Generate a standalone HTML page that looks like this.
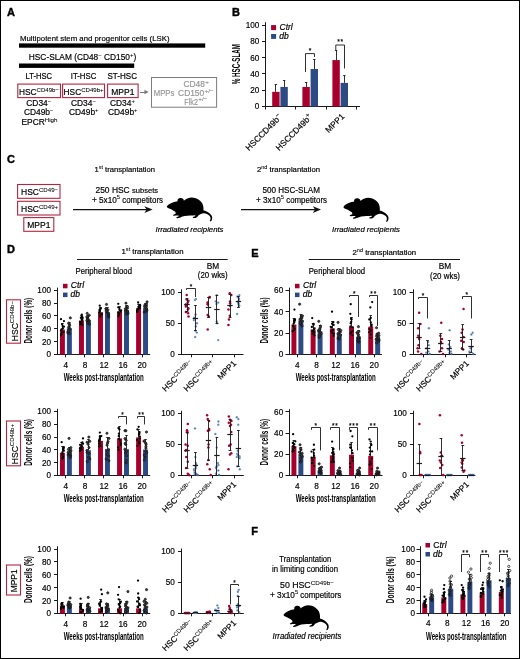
<!DOCTYPE html>
<html><head><meta charset="utf-8"><style>
html,body{margin:0;padding:0;background:#fff;}
body{width:520px;height:659px;overflow:hidden;}
svg{display:block;font-family:"Liberation Sans", sans-serif;will-change:transform;transform:translateZ(0);}
</style></head><body>
<svg width="520" height="659" viewBox="0 0 520 659">
<rect x="0" y="0" width="520" height="659" fill="#fff"/>
<rect x="0.5" y="0.5" width="519" height="658" fill="none" stroke="#000" stroke-width="1"/>
<text x="7" y="16" font-size="11" font-weight="bold" stroke="#000" stroke-width="0.4">A</text>
<text x="232" y="16.3" font-size="11" font-weight="bold" stroke="#000" stroke-width="0.4">B</text>
<text x="7" y="162.5" font-size="11" font-weight="bold" stroke="#000" stroke-width="0.4">C</text>
<text x="7" y="253" font-size="11" font-weight="bold" stroke="#000" stroke-width="0.4">D</text>
<text x="251.3" y="257" font-size="11" font-weight="bold" stroke="#000" stroke-width="0.4">E</text>
<text x="251.3" y="534.5" font-size="11" font-weight="bold" stroke="#000" stroke-width="0.4">F</text>
<text x="20" y="41" font-size="8.1" stroke="#000" stroke-width="0.18" textLength="149.5" lengthAdjust="spacingAndGlyphs">Multipotent stem and progenitor cells (LSK)</text>
<rect x="19" y="43.4" width="186.2" height="4.3" fill="#000"/>
<text x="28.8" y="60" font-size="8.3" stroke="#000" stroke-width="0.18" textLength="107.5" lengthAdjust="spacingAndGlyphs">HSC-SLAM (CD48<tspan font-size="6" dy="-3.2" stroke-width="0.06">−</tspan><tspan dy="3.2"> CD150</tspan><tspan font-size="6" dy="-3.2" stroke-width="0.06">+</tspan><tspan dy="3.2">)</tspan></text>
<rect x="19" y="63.5" width="115.2" height="4.4" fill="#000"/>
<text x="25.5" y="79.3" font-size="8.2" stroke="#000" stroke-width="0.18" textLength="26.5" lengthAdjust="spacingAndGlyphs">LT-HSC</text>
<text x="70.8" y="79.3" font-size="8.2" stroke="#000" stroke-width="0.18" textLength="25.5" lengthAdjust="spacingAndGlyphs">IT-HSC</text>
<text x="107.5" y="79.3" font-size="8.2" stroke="#000" stroke-width="0.18" textLength="29.5" lengthAdjust="spacingAndGlyphs">ST-HSC</text>
<rect x="17.8" y="84.1" width="42.7" height="13.5" fill="none" stroke="#b3263f" stroke-width="1.1"/>
<rect x="62.6" y="84.1" width="41.9" height="13.5" fill="none" stroke="#b3263f" stroke-width="1.1"/>
<rect x="107.6" y="84.1" width="30.5" height="13.5" fill="none" stroke="#b3263f" stroke-width="1.1"/>
<text x="19" y="94.9" font-size="8.4" stroke="#000" stroke-width="0.18" textLength="40" lengthAdjust="spacingAndGlyphs">HSC<tspan font-size="6.1" dy="-3.3" stroke-width="0.06">CD49b−</tspan></text>
<text x="63.6" y="94.9" font-size="8.4" stroke="#000" stroke-width="0.18" textLength="40" lengthAdjust="spacingAndGlyphs">HSC<tspan font-size="6.1" dy="-3.3" stroke-width="0.06">CD49b+</tspan></text>
<text x="122.8" y="94.9" font-size="8.5" text-anchor="middle" stroke="#000" stroke-width="0.18">MPP1</text>
<text x="26.3" y="105.7" font-size="8.4" stroke="#000" stroke-width="0.18">CD34<tspan font-size="5.8" dy="-3.2" stroke-width="0.06">−</tspan></text>
<text x="23.9" y="115.3" font-size="8.4" stroke="#000" stroke-width="0.18">CD49b<tspan font-size="5.8" dy="-3.2" stroke-width="0.06">−</tspan></text>
<text x="21.5" y="125" font-size="8.4" stroke="#000" stroke-width="0.18">EPCR<tspan font-size="6.2" dy="-3.2" stroke-width="0.06">High</tspan></text>
<text x="71" y="105.7" font-size="8.4" stroke="#000" stroke-width="0.18">CD34<tspan font-size="5.8" dy="-3.2" stroke-width="0.06">−</tspan></text>
<text x="69" y="115.3" font-size="8.4" stroke="#000" stroke-width="0.18">CD49b<tspan font-size="5.8" dy="-3.2" stroke-width="0.06">+</tspan></text>
<text x="110" y="105.7" font-size="8.4" stroke="#000" stroke-width="0.18">CD34<tspan font-size="5.8" dy="-3.2" stroke-width="0.06">+</tspan></text>
<text x="108" y="115.3" font-size="8.4" stroke="#000" stroke-width="0.18">CD49b<tspan font-size="5.8" dy="-3.2" stroke-width="0.06">+</tspan></text>
<line x1="140" y1="92.5" x2="146" y2="92.5" stroke="#777" stroke-width="1" />
<path d="M148.5 92 L144.5 89.8 L144.5 94.2 Z" fill="#777"/>
<rect x="151.5" y="77.5" width="65.1" height="29.7" fill="none" stroke="#7d7d7d" stroke-width="1"/>
<text x="204.8" y="87.2" font-size="8.4" text-anchor="end" fill="#979797" stroke="#979797" stroke-width="0.18">CD48</text>
<text x="205.2" y="83.8" font-size="6.2" fill="#979797" stroke="#979797" stroke-width="0.18">+</text>
<text x="153.8" y="96.2" font-size="8.2" fill="#979797" stroke="#979797" stroke-width="0.18" textLength="20.5" lengthAdjust="spacingAndGlyphs">MPPs</text>
<text x="204.2" y="96.2" font-size="8.4" text-anchor="end" fill="#979797" stroke="#979797" stroke-width="0.18">CD150</text>
<text x="204.6" y="92.8" font-size="6.2" fill="#979797" stroke="#979797" stroke-width="0.18" textLength="9.2" lengthAdjust="spacingAndGlyphs">+/−</text>
<text x="197.9" y="104.7" font-size="8.4" text-anchor="end" fill="#979797" stroke="#979797" stroke-width="0.18" textLength="13.6" lengthAdjust="spacingAndGlyphs">Flk2</text>
<text x="198.3" y="101.3" font-size="6.2" fill="#979797" stroke="#979797" stroke-width="0.18" textLength="9.2" lengthAdjust="spacingAndGlyphs">+/−</text>
<line x1="265.5" y1="22.2" x2="265.5" y2="107" stroke="#1a1a1a" stroke-width="1" />
<line x1="262" y1="106.5" x2="265.5" y2="106.5" stroke="#1a1a1a" stroke-width="1" />
<text x="259.3" y="109.4" font-size="8.6" text-anchor="end" stroke="#000" stroke-width="0.18" textLength="4.55" lengthAdjust="spacingAndGlyphs">0</text>
<line x1="262" y1="90.5" x2="265.5" y2="90.5" stroke="#1a1a1a" stroke-width="1" />
<text x="259.3" y="93.11" font-size="8.6" text-anchor="end" stroke="#000" stroke-width="0.18" textLength="9.1" lengthAdjust="spacingAndGlyphs">20</text>
<line x1="262" y1="73.5" x2="265.5" y2="73.5" stroke="#1a1a1a" stroke-width="1" />
<text x="259.3" y="76.82" font-size="8.6" text-anchor="end" stroke="#000" stroke-width="0.18" textLength="9.1" lengthAdjust="spacingAndGlyphs">40</text>
<line x1="262" y1="57.5" x2="265.5" y2="57.5" stroke="#1a1a1a" stroke-width="1" />
<text x="259.3" y="60.53" font-size="8.6" text-anchor="end" stroke="#000" stroke-width="0.18" textLength="9.1" lengthAdjust="spacingAndGlyphs">60</text>
<line x1="262" y1="41.5" x2="265.5" y2="41.5" stroke="#1a1a1a" stroke-width="1" />
<text x="259.3" y="44.24" font-size="8.6" text-anchor="end" stroke="#000" stroke-width="0.18" textLength="9.1" lengthAdjust="spacingAndGlyphs">80</text>
<line x1="262" y1="25.5" x2="265.5" y2="25.5" stroke="#1a1a1a" stroke-width="1" />
<text x="259.3" y="27.95" font-size="8.6" text-anchor="end" stroke="#000" stroke-width="0.18" textLength="13.65" lengthAdjust="spacingAndGlyphs">100</text>
<line x1="265" y1="106.5" x2="360" y2="106.5" stroke="#1a1a1a" stroke-width="1" />
<line x1="265.5" y1="106.5" x2="265.5" y2="109.5" stroke="#1a1a1a" stroke-width="1" />
<line x1="295.5" y1="106.5" x2="295.5" y2="109.5" stroke="#1a1a1a" stroke-width="1" />
<line x1="326.5" y1="106.5" x2="326.5" y2="109.5" stroke="#1a1a1a" stroke-width="1" />
<line x1="356.5" y1="106.5" x2="356.5" y2="109.5" stroke="#1a1a1a" stroke-width="1" />
<text x="0" y="0" font-size="10.3" text-anchor="middle" font-weight="bold" textLength="40.3" lengthAdjust="spacingAndGlyphs" transform="translate(239.9 64.1) rotate(-90)">% HSC-SLAM</text>
<rect x="271.1" y="25.1" width="5" height="5" fill="#a8002d"/>
<rect x="271.1" y="34" width="5" height="4.9" fill="#2c4a84"/>
<text x="279.5" y="29.9" font-size="8.5" font-style="italic" stroke="#000" stroke-width="0.18">Ctrl</text>
<text x="279.2" y="38.6" font-size="8.5" font-style="italic" stroke="#000" stroke-width="0.18">db</text>
<line x1="275.5" y1="91.84" x2="275.5" y2="84.51" stroke="#1a1a1a" stroke-width="0.9" />
<line x1="274.7" y1="84.5" x2="277.1" y2="84.5" stroke="#1a1a1a" stroke-width="0.9" />
<rect x="272.2" y="91.84" width="7.4" height="14.66" fill="#a8002d"/>
<line x1="284.5" y1="86.95" x2="284.5" y2="80.44" stroke="#1a1a1a" stroke-width="0.9" />
<line x1="282.9" y1="80.5" x2="285.3" y2="80.5" stroke="#1a1a1a" stroke-width="0.9" />
<rect x="280.4" y="86.95" width="7.4" height="19.55" fill="#2c4a84"/>
<line x1="306.5" y1="86.95" x2="306.5" y2="82.06" stroke="#1a1a1a" stroke-width="0.9" />
<line x1="304.9" y1="82.5" x2="307.3" y2="82.5" stroke="#1a1a1a" stroke-width="0.9" />
<rect x="302.4" y="86.95" width="7.4" height="19.55" fill="#a8002d"/>
<line x1="314.5" y1="69.03" x2="314.5" y2="59.26" stroke="#1a1a1a" stroke-width="0.9" />
<line x1="313.1" y1="59.5" x2="315.5" y2="59.5" stroke="#1a1a1a" stroke-width="0.9" />
<rect x="310.6" y="69.03" width="7.4" height="37.47" fill="#2c4a84"/>
<line x1="336.5" y1="60.07" x2="336.5" y2="50.3" stroke="#1a1a1a" stroke-width="0.9" />
<line x1="334.9" y1="50.5" x2="337.3" y2="50.5" stroke="#1a1a1a" stroke-width="0.9" />
<rect x="332.4" y="60.07" width="7.4" height="46.43" fill="#a8002d"/>
<line x1="344.5" y1="82.88" x2="344.5" y2="75.55" stroke="#1a1a1a" stroke-width="0.9" />
<line x1="343.1" y1="75.5" x2="345.5" y2="75.5" stroke="#1a1a1a" stroke-width="0.9" />
<rect x="340.6" y="82.88" width="7.4" height="23.62" fill="#2c4a84"/>
<path d="M305.5 72 V53.6 H314.5 V57" fill="none" stroke="#1a1a1a" stroke-width="0.9"/>
<text x="310" y="53.4" font-size="6.6" text-anchor="middle" stroke="#000" stroke-width="0.18">*</text>
<path d="M335.8 50 V45 H344.5 V68.5" fill="none" stroke="#1a1a1a" stroke-width="0.9"/>
<text x="340.6" y="44.4" font-size="6.6" text-anchor="middle" stroke="#000" stroke-width="0.18" letter-spacing="0.9">**</text>
<text x="0" y="0" font-size="8.4" text-anchor="end" stroke="#000" stroke-width="0.18" transform="translate(282.6 117.6) rotate(-45)">HSCCD49b<tspan font-size="6.5" dy="-3.3" stroke-width="0.06">−</tspan></text>
<text x="0" y="0" font-size="8.4" text-anchor="end" stroke="#000" stroke-width="0.18" transform="translate(312.8 117.6) rotate(-45)">HSCCD49b<tspan font-size="6.5" dy="-3.3" stroke-width="0.06">+</tspan></text>
<text x="0" y="0" font-size="8.4" text-anchor="end" stroke="#000" stroke-width="0.18" transform="translate(345 117) rotate(-45)">MPP1</text>
<rect x="17.6" y="184.5" width="42.4" height="13.8" fill="none" stroke="#b3263f" stroke-width="1.1"/>
<rect x="17.6" y="201.3" width="42.4" height="13.7" fill="none" stroke="#b3263f" stroke-width="1.1"/>
<rect x="23.8" y="217.6" width="30" height="13.7" fill="none" stroke="#b3263f" stroke-width="1.1"/>
<text x="21" y="195.1" font-size="8.5" stroke="#000" stroke-width="0.18">HSC<tspan font-size="6.1" dy="-3.3" stroke-width="0.06">CD49−</tspan></text>
<text x="21" y="211.9" font-size="8.5" stroke="#000" stroke-width="0.18">HSC<tspan font-size="6.1" dy="-3.3" stroke-width="0.06">CD49+</tspan></text>
<text x="38.8" y="228.1" font-size="8.5" text-anchor="middle" stroke="#000" stroke-width="0.18">MPP1</text>
<text x="94.5" y="172" font-size="7" stroke="#000" stroke-width="0.18" textLength="60.5" lengthAdjust="spacingAndGlyphs">1<tspan font-size="5" dy="-2.8" stroke-width="0.06">st</tspan><tspan dy="2.8"> transplantation</tspan></text>
<text x="95.5" y="192.5" font-size="8.5" stroke="#000" stroke-width="0.18" textLength="62.5" lengthAdjust="spacingAndGlyphs">250 HSC <tspan font-size="7.6">subsets</tspan></text>
<text x="92" y="202.5" font-size="8.5" stroke="#000" stroke-width="0.18" textLength="71" lengthAdjust="spacingAndGlyphs">+ 5x10<tspan font-size="6" dy="-3.2" stroke-width="0.06">5</tspan><tspan dy="3.2" font-size="8.2"> competitors</tspan></text>
<path d="M73 209.6 H148" stroke="#111" stroke-width="1.25"/>
<path d="M152.6 209.6 L144.4 206.2 L146.6 209.6 L144.4 213 Z" fill="#111"/>
<path d="M38 148 C45 130 75 112 110 100 L145 92 C138 72 156 56 176 58 C196 60 210 72 206 86 C225 66 255 52 285 52 C330 53 368 78 388 112 C400 135 402 160 400 185 C430 192 465 212 482 242 C492 262 488 286 474 301 C468 304 462 300 464 294 C474 278 474 258 460 242 C445 228 425 220 405 218 C385 222 362 230 350 240 C343 250 335 262 322 266 L300 267 C292 265 293 257 303 254 L318 248 C322 244 322 240 318 238 C290 240 250 242 215 246 C200 249 185 255 172 262 L145 270 C133 270 128 264 135 259 L160 245 C150 238 130 240 112 243 C100 244 97 236 104 232 L125 222 C128 215 125 208 118 200 C100 188 80 175 60 168 C45 163 37 157 38 148 Z" fill="#000" transform="translate(166.5 197.2) scale(0.10110 0.09600) translate(-35 -50)"/>
<text x="155.5" y="231.7" font-size="8" font-style="italic" stroke="#000" stroke-width="0.18" textLength="68" lengthAdjust="spacingAndGlyphs">Irradiated recipients</text>
<text x="257" y="172" font-size="7" stroke="#000" stroke-width="0.18" textLength="63" lengthAdjust="spacingAndGlyphs">2<tspan font-size="5" dy="-2.8" stroke-width="0.06">nd</tspan><tspan dy="2.8"> transplantation</tspan></text>
<text x="262.5" y="192.5" font-size="8.5" stroke="#000" stroke-width="0.18" textLength="57.5" lengthAdjust="spacingAndGlyphs">500 HSC-SLAM</text>
<text x="256" y="202.5" font-size="8.5" stroke="#000" stroke-width="0.18" textLength="71" lengthAdjust="spacingAndGlyphs">+ 3x10<tspan font-size="6" dy="-3.2" stroke-width="0.06">5</tspan><tspan dy="3.2" font-size="8.2"> competitors</tspan></text>
<path d="M241 209.6 H316.5" stroke="#111" stroke-width="1.25"/>
<path d="M321 209.6 L312.8 206.2 L315 209.6 L312.8 213 Z" fill="#111"/>
<path d="M38 148 C45 130 75 112 110 100 L145 92 C138 72 156 56 176 58 C196 60 210 72 206 86 C225 66 255 52 285 52 C330 53 368 78 388 112 C400 135 402 160 400 185 C430 192 465 212 482 242 C492 262 488 286 474 301 C468 304 462 300 464 294 C474 278 474 258 460 242 C445 228 425 220 405 218 C385 222 362 230 350 240 C343 250 335 262 322 266 L300 267 C292 265 293 257 303 254 L318 248 C322 244 322 240 318 238 C290 240 250 242 215 246 C200 249 185 255 172 262 L145 270 C133 270 128 264 135 259 L160 245 C150 238 130 240 112 243 C100 244 97 236 104 232 L125 222 C128 215 125 208 118 200 C100 188 80 175 60 168 C45 163 37 157 38 148 Z" fill="#000" transform="translate(343.2 197.5) scale(0.10022 0.09680) translate(-35 -50)"/>
<text x="332" y="232" font-size="8" font-style="italic" stroke="#000" stroke-width="0.18" textLength="68" lengthAdjust="spacingAndGlyphs">Irradiated recipients</text>
<text x="121.5" y="254" font-size="7" stroke="#000" stroke-width="0.18" textLength="62" lengthAdjust="spacingAndGlyphs">1<tspan font-size="5" dy="-2.8" stroke-width="0.06">st</tspan><tspan dy="2.8"> transplantation</tspan></text>
<line x1="77" y1="259.5" x2="227.7" y2="259.5" stroke="#1a1a1a" stroke-width="1" />
<text x="75.5" y="274" font-size="8.2" stroke="#000" stroke-width="0.18" textLength="56.5" lengthAdjust="spacingAndGlyphs">Peripheral blood</text>
<text x="213" y="268.8" font-size="8.3" text-anchor="middle" stroke="#000" stroke-width="0.18">BM</text>
<text x="197.8" y="278" font-size="8.3" stroke="#000" stroke-width="0.18" textLength="29.9" lengthAdjust="spacingAndGlyphs">(20 wks)</text>
<rect x="63" y="283.8" width="4.5" height="4.5" fill="#a8002d"/>
<rect x="63" y="292.6" width="4.5" height="4.5" fill="#2c4a84"/>
<text x="70.8" y="288.3" font-size="8.5" font-style="italic" stroke="#000" stroke-width="0.18">Ctrl</text>
<text x="70.6" y="297.1" font-size="8.5" font-style="italic" stroke="#000" stroke-width="0.18">db</text>
<rect x="6.5" y="299.8" width="14" height="43.4" fill="none" stroke="#b3263f" stroke-width="1.1"/>
<text x="0" y="0" font-size="8.4" stroke="#000" stroke-width="0.18" textLength="40.2" lengthAdjust="spacingAndGlyphs" transform="translate(17.9 341.3) rotate(-90)">HSC<tspan font-size="5.8" dy="-3.5" stroke-width="0.06">CD49b−</tspan></text>
<text x="0" y="0" font-size="10.2" text-anchor="middle" font-weight="bold" textLength="45.5" lengthAdjust="spacingAndGlyphs" transform="translate(32 320.7) rotate(-90)">Donor cells (%)</text>
<line x1="57.5" y1="287.6" x2="57.5" y2="355" stroke="#1a1a1a" stroke-width="1" />
<line x1="54" y1="354.5" x2="57.5" y2="354.5" stroke="#1a1a1a" stroke-width="1" />
<text x="51" y="357.4" font-size="8.6" text-anchor="end" stroke="#000" stroke-width="0.18" textLength="4.55" lengthAdjust="spacingAndGlyphs">0</text>
<line x1="54" y1="341.5" x2="57.5" y2="341.5" stroke="#1a1a1a" stroke-width="1" />
<text x="51" y="344.56" font-size="8.6" text-anchor="end" stroke="#000" stroke-width="0.18" textLength="9.1" lengthAdjust="spacingAndGlyphs">20</text>
<line x1="54" y1="328.5" x2="57.5" y2="328.5" stroke="#1a1a1a" stroke-width="1" />
<text x="51" y="331.72" font-size="8.6" text-anchor="end" stroke="#000" stroke-width="0.18" textLength="9.1" lengthAdjust="spacingAndGlyphs">40</text>
<line x1="54" y1="315.5" x2="57.5" y2="315.5" stroke="#1a1a1a" stroke-width="1" />
<text x="51" y="318.88" font-size="8.6" text-anchor="end" stroke="#000" stroke-width="0.18" textLength="9.1" lengthAdjust="spacingAndGlyphs">60</text>
<line x1="54" y1="303.5" x2="57.5" y2="303.5" stroke="#1a1a1a" stroke-width="1" />
<text x="51" y="306.04" font-size="8.6" text-anchor="end" stroke="#000" stroke-width="0.18" textLength="9.1" lengthAdjust="spacingAndGlyphs">80</text>
<line x1="54" y1="290.5" x2="57.5" y2="290.5" stroke="#1a1a1a" stroke-width="1" />
<text x="51" y="293.2" font-size="8.6" text-anchor="end" stroke="#000" stroke-width="0.18" textLength="13.65" lengthAdjust="spacingAndGlyphs">100</text>
<line x1="57" y1="354.5" x2="150.2" y2="354.5" stroke="#1a1a1a" stroke-width="1" />
<line x1="65.5" y1="354.5" x2="65.5" y2="357.3" stroke="#1a1a1a" stroke-width="1" />
<text x="65.9" y="367.9" font-size="8.8" text-anchor="middle" stroke="#000" stroke-width="0.18" textLength="4.6" lengthAdjust="spacingAndGlyphs">4</text>
<line x1="84.5" y1="354.5" x2="84.5" y2="357.3" stroke="#1a1a1a" stroke-width="1" />
<text x="84.94" y="367.9" font-size="8.8" text-anchor="middle" stroke="#000" stroke-width="0.18" textLength="4.6" lengthAdjust="spacingAndGlyphs">8</text>
<line x1="103.5" y1="354.5" x2="103.5" y2="357.3" stroke="#1a1a1a" stroke-width="1" />
<text x="103.98" y="367.9" font-size="8.8" text-anchor="middle" stroke="#000" stroke-width="0.18" textLength="9.2" lengthAdjust="spacingAndGlyphs">12</text>
<line x1="123.5" y1="354.5" x2="123.5" y2="357.3" stroke="#1a1a1a" stroke-width="1" />
<text x="123.02" y="367.9" font-size="8.8" text-anchor="middle" stroke="#000" stroke-width="0.18" textLength="9.2" lengthAdjust="spacingAndGlyphs">16</text>
<line x1="142.5" y1="354.5" x2="142.5" y2="357.3" stroke="#1a1a1a" stroke-width="1" />
<text x="142.06" y="367.9" font-size="8.8" text-anchor="middle" stroke="#000" stroke-width="0.18" textLength="9.2" lengthAdjust="spacingAndGlyphs">20</text>
<rect x="59.95" y="329.46" width="4.95" height="25.04" fill="#a8002d"/>
<line x1="62.5" y1="329.46" x2="62.5" y2="323.68" stroke="#1a1a1a" stroke-width="0.9" />
<line x1="61.13" y1="323.5" x2="63.73" y2="323.5" stroke="#1a1a1a" stroke-width="0.9" />
<circle cx="61.05" cy="335.42" r="1.15" fill="#000"/>
<circle cx="61.12" cy="334.42" r="1.15" fill="#000"/>
<circle cx="62.18" cy="332.6" r="1.15" fill="#000"/>
<circle cx="63.47" cy="332.09" r="1.15" fill="#000"/>
<circle cx="61.22" cy="330.31" r="1.15" fill="#000"/>
<circle cx="61.54" cy="329.31" r="1.15" fill="#000"/>
<circle cx="62.83" cy="328.47" r="1.15" fill="#000"/>
<circle cx="63.86" cy="326.71" r="1.15" fill="#000"/>
<circle cx="62.67" cy="326.07" r="1.15" fill="#000"/>
<circle cx="62.09" cy="324.37" r="1.15" fill="#000"/>
<circle cx="63.95" cy="321.12" r="1.15" fill="#000"/>
<circle cx="60.97" cy="319.19" r="1.15" fill="#000"/>
<rect x="66.9" y="328.18" width="4.95" height="26.32" fill="#2c4a84"/>
<line x1="69.5" y1="328.18" x2="69.5" y2="322.4" stroke="#1a1a1a" stroke-width="0.9" />
<line x1="68.08" y1="322.5" x2="70.67" y2="322.5" stroke="#1a1a1a" stroke-width="0.9" />
<circle cx="69.53" cy="333.49" r="1.1" fill="#444" stroke="#111" stroke-width="0.75"/>
<circle cx="67.98" cy="332.97" r="1.1" fill="#444" stroke="#111" stroke-width="0.75"/>
<circle cx="67.97" cy="331.93" r="1.1" fill="#444" stroke="#111" stroke-width="0.75"/>
<circle cx="68.43" cy="330.75" r="1.1" fill="#444" stroke="#111" stroke-width="0.75"/>
<circle cx="69.95" cy="329.31" r="1.1" fill="#444" stroke="#111" stroke-width="0.75"/>
<circle cx="69.14" cy="327.48" r="1.1" fill="#444" stroke="#111" stroke-width="0.75"/>
<circle cx="68.78" cy="327.03" r="1.1" fill="#444" stroke="#111" stroke-width="0.75"/>
<circle cx="69.65" cy="325.33" r="1.1" fill="#444" stroke="#111" stroke-width="0.75"/>
<circle cx="69.23" cy="324.05" r="1.1" fill="#444" stroke="#111" stroke-width="0.75"/>
<circle cx="68.73" cy="323.16" r="1.1" fill="#444" stroke="#111" stroke-width="0.75"/>
<circle cx="70.32" cy="317.91" r="1.1" fill="#444" stroke="#111" stroke-width="0.75"/>
<rect x="78.99" y="320.47" width="4.95" height="34.03" fill="#a8002d"/>
<line x1="81.5" y1="320.47" x2="81.5" y2="315.98" stroke="#1a1a1a" stroke-width="0.9" />
<line x1="80.17" y1="315.5" x2="82.77" y2="315.5" stroke="#1a1a1a" stroke-width="0.9" />
<circle cx="82.29" cy="324.76" r="1.15" fill="#000"/>
<circle cx="80.35" cy="324.24" r="1.15" fill="#000"/>
<circle cx="81.43" cy="322.99" r="1.15" fill="#000"/>
<circle cx="79.99" cy="322.09" r="1.15" fill="#000"/>
<circle cx="82" cy="320.82" r="1.15" fill="#000"/>
<circle cx="82.31" cy="320.01" r="1.15" fill="#000"/>
<circle cx="81.7" cy="319.48" r="1.15" fill="#000"/>
<circle cx="82.67" cy="317.89" r="1.15" fill="#000"/>
<circle cx="80.87" cy="317.76" r="1.15" fill="#000"/>
<circle cx="82.09" cy="316.53" r="1.15" fill="#000"/>
<circle cx="81.77" cy="314.7" r="1.15" fill="#000"/>
<rect x="85.94" y="319.83" width="4.95" height="34.67" fill="#2c4a84"/>
<line x1="88.5" y1="319.83" x2="88.5" y2="315.34" stroke="#1a1a1a" stroke-width="0.9" />
<line x1="87.11" y1="315.5" x2="89.71" y2="315.5" stroke="#1a1a1a" stroke-width="0.9" />
<circle cx="89.45" cy="324.23" r="1.1" fill="#444" stroke="#111" stroke-width="0.75"/>
<circle cx="87.73" cy="323.4" r="1.1" fill="#444" stroke="#111" stroke-width="0.75"/>
<circle cx="88.05" cy="322.1" r="1.1" fill="#444" stroke="#111" stroke-width="0.75"/>
<circle cx="88.95" cy="321.05" r="1.1" fill="#444" stroke="#111" stroke-width="0.75"/>
<circle cx="86.89" cy="320.55" r="1.1" fill="#444" stroke="#111" stroke-width="0.75"/>
<circle cx="88.29" cy="319.43" r="1.1" fill="#444" stroke="#111" stroke-width="0.75"/>
<circle cx="87.35" cy="319.06" r="1.1" fill="#444" stroke="#111" stroke-width="0.75"/>
<circle cx="87.19" cy="317.51" r="1.1" fill="#444" stroke="#111" stroke-width="0.75"/>
<circle cx="87" cy="316.61" r="1.1" fill="#444" stroke="#111" stroke-width="0.75"/>
<circle cx="89.27" cy="315.34" r="1.1" fill="#444" stroke="#111" stroke-width="0.75"/>
<circle cx="87.23" cy="313.41" r="1.1" fill="#444" stroke="#111" stroke-width="0.75"/>
<rect x="98.03" y="312.13" width="4.95" height="42.37" fill="#a8002d"/>
<line x1="100.5" y1="312.13" x2="100.5" y2="307.63" stroke="#1a1a1a" stroke-width="0.9" />
<line x1="99.2" y1="307.5" x2="101.8" y2="307.5" stroke="#1a1a1a" stroke-width="0.9" />
<circle cx="100.23" cy="316.84" r="1.15" fill="#000"/>
<circle cx="100.05" cy="315.76" r="1.15" fill="#000"/>
<circle cx="101.73" cy="314.36" r="1.15" fill="#000"/>
<circle cx="101.97" cy="314.16" r="1.15" fill="#000"/>
<circle cx="99.39" cy="312.87" r="1.15" fill="#000"/>
<circle cx="99.47" cy="311.83" r="1.15" fill="#000"/>
<circle cx="99.65" cy="310.58" r="1.15" fill="#000"/>
<circle cx="99.65" cy="309.69" r="1.15" fill="#000"/>
<circle cx="100.46" cy="308.71" r="1.15" fill="#000"/>
<circle cx="100.79" cy="308.31" r="1.15" fill="#000"/>
<circle cx="99.75" cy="305.71" r="1.15" fill="#000"/>
<rect x="104.98" y="312.13" width="4.95" height="42.37" fill="#2c4a84"/>
<line x1="107.5" y1="312.13" x2="107.5" y2="307.63" stroke="#1a1a1a" stroke-width="0.9" />
<line x1="106.16" y1="307.5" x2="108.76" y2="307.5" stroke="#1a1a1a" stroke-width="0.9" />
<circle cx="108.73" cy="317.07" r="1.1" fill="#444" stroke="#111" stroke-width="0.75"/>
<circle cx="108.35" cy="315.73" r="1.1" fill="#444" stroke="#111" stroke-width="0.75"/>
<circle cx="108.65" cy="314.84" r="1.1" fill="#444" stroke="#111" stroke-width="0.75"/>
<circle cx="108.41" cy="313.71" r="1.1" fill="#444" stroke="#111" stroke-width="0.75"/>
<circle cx="107.11" cy="312.4" r="1.1" fill="#444" stroke="#111" stroke-width="0.75"/>
<circle cx="107.13" cy="311.7" r="1.1" fill="#444" stroke="#111" stroke-width="0.75"/>
<circle cx="106.19" cy="310.92" r="1.1" fill="#444" stroke="#111" stroke-width="0.75"/>
<circle cx="107.88" cy="309.88" r="1.1" fill="#444" stroke="#111" stroke-width="0.75"/>
<circle cx="106.05" cy="308.88" r="1.1" fill="#444" stroke="#111" stroke-width="0.75"/>
<circle cx="106.07" cy="308.53" r="1.1" fill="#444" stroke="#111" stroke-width="0.75"/>
<circle cx="106.52" cy="304.42" r="1.1" fill="#444" stroke="#111" stroke-width="0.75"/>
<rect x="117.07" y="311.49" width="4.95" height="43.01" fill="#a8002d"/>
<line x1="119.5" y1="311.49" x2="119.5" y2="306.99" stroke="#1a1a1a" stroke-width="0.9" />
<line x1="118.25" y1="306.5" x2="120.85" y2="306.5" stroke="#1a1a1a" stroke-width="0.9" />
<circle cx="118.42" cy="316.28" r="1.15" fill="#000"/>
<circle cx="118.75" cy="315.16" r="1.15" fill="#000"/>
<circle cx="119.06" cy="314.49" r="1.15" fill="#000"/>
<circle cx="119.11" cy="313.6" r="1.15" fill="#000"/>
<circle cx="118.34" cy="312.51" r="1.15" fill="#000"/>
<circle cx="120.66" cy="311.61" r="1.15" fill="#000"/>
<circle cx="121.12" cy="310.42" r="1.15" fill="#000"/>
<circle cx="119.44" cy="309.8" r="1.15" fill="#000"/>
<circle cx="119.49" cy="308.05" r="1.15" fill="#000"/>
<circle cx="118.22" cy="307.36" r="1.15" fill="#000"/>
<circle cx="118.27" cy="303.78" r="1.15" fill="#000"/>
<rect x="124.02" y="309.88" width="4.95" height="44.62" fill="#2c4a84"/>
<line x1="126.5" y1="309.88" x2="126.5" y2="305.71" stroke="#1a1a1a" stroke-width="0.9" />
<line x1="125.2" y1="305.5" x2="127.8" y2="305.5" stroke="#1a1a1a" stroke-width="0.9" />
<circle cx="126.58" cy="314.17" r="1.1" fill="#444" stroke="#111" stroke-width="0.75"/>
<circle cx="128.03" cy="313.36" r="1.1" fill="#444" stroke="#111" stroke-width="0.75"/>
<circle cx="127.66" cy="311.99" r="1.1" fill="#444" stroke="#111" stroke-width="0.75"/>
<circle cx="127.12" cy="311.7" r="1.1" fill="#444" stroke="#111" stroke-width="0.75"/>
<circle cx="125.73" cy="310.95" r="1.1" fill="#444" stroke="#111" stroke-width="0.75"/>
<circle cx="126.07" cy="309.26" r="1.1" fill="#444" stroke="#111" stroke-width="0.75"/>
<circle cx="125.43" cy="308.75" r="1.1" fill="#444" stroke="#111" stroke-width="0.75"/>
<circle cx="127.37" cy="308.21" r="1.1" fill="#444" stroke="#111" stroke-width="0.75"/>
<circle cx="126.6" cy="306.98" r="1.1" fill="#444" stroke="#111" stroke-width="0.75"/>
<circle cx="127.39" cy="306.56" r="1.1" fill="#444" stroke="#111" stroke-width="0.75"/>
<circle cx="125.95" cy="303.14" r="1.1" fill="#444" stroke="#111" stroke-width="0.75"/>
<rect x="136.11" y="308.08" width="4.95" height="46.42" fill="#a8002d"/>
<line x1="138.5" y1="308.08" x2="138.5" y2="304.42" stroke="#1a1a1a" stroke-width="0.9" />
<line x1="137.28" y1="304.5" x2="139.89" y2="304.5" stroke="#1a1a1a" stroke-width="0.9" />
<circle cx="137.08" cy="311.94" r="1.15" fill="#000"/>
<circle cx="137.07" cy="310.72" r="1.15" fill="#000"/>
<circle cx="137.88" cy="309.81" r="1.15" fill="#000"/>
<circle cx="137.81" cy="309.15" r="1.15" fill="#000"/>
<circle cx="139.2" cy="308.42" r="1.15" fill="#000"/>
<circle cx="140.05" cy="307.64" r="1.15" fill="#000"/>
<circle cx="138.42" cy="306.93" r="1.15" fill="#000"/>
<circle cx="139.98" cy="306.56" r="1.15" fill="#000"/>
<circle cx="140.15" cy="305.56" r="1.15" fill="#000"/>
<circle cx="140.04" cy="304.92" r="1.15" fill="#000"/>
<circle cx="138.15" cy="302.5" r="1.15" fill="#000"/>
<rect x="143.06" y="307.83" width="4.95" height="46.67" fill="#2c4a84"/>
<line x1="145.5" y1="307.83" x2="145.5" y2="303.78" stroke="#1a1a1a" stroke-width="0.9" />
<line x1="144.23" y1="303.5" x2="146.84" y2="303.5" stroke="#1a1a1a" stroke-width="0.9" />
<circle cx="144.21" cy="312.09" r="1.1" fill="#444" stroke="#111" stroke-width="0.75"/>
<circle cx="146.05" cy="311.23" r="1.1" fill="#444" stroke="#111" stroke-width="0.75"/>
<circle cx="146.85" cy="310.41" r="1.1" fill="#444" stroke="#111" stroke-width="0.75"/>
<circle cx="146.44" cy="309.55" r="1.1" fill="#444" stroke="#111" stroke-width="0.75"/>
<circle cx="146.34" cy="308.35" r="1.1" fill="#444" stroke="#111" stroke-width="0.75"/>
<circle cx="145.46" cy="307.26" r="1.1" fill="#444" stroke="#111" stroke-width="0.75"/>
<circle cx="144.51" cy="306.47" r="1.1" fill="#444" stroke="#111" stroke-width="0.75"/>
<circle cx="146.46" cy="305.92" r="1.1" fill="#444" stroke="#111" stroke-width="0.75"/>
<circle cx="145" cy="304.93" r="1.1" fill="#444" stroke="#111" stroke-width="0.75"/>
<circle cx="146.5" cy="303.95" r="1.1" fill="#444" stroke="#111" stroke-width="0.75"/>
<circle cx="147.04" cy="301.86" r="1.1" fill="#444" stroke="#111" stroke-width="0.75"/>
<text x="63.7" y="380.5" font-size="10" font-weight="bold" textLength="80" lengthAdjust="spacingAndGlyphs">Weeks post-transplantation</text>
<line x1="181.5" y1="289.3" x2="181.5" y2="355" stroke="#1a1a1a" stroke-width="1" />
<line x1="178" y1="354.5" x2="181.5" y2="354.5" stroke="#1a1a1a" stroke-width="1" />
<text x="174.9" y="357.4" font-size="8.6" text-anchor="end" stroke="#000" stroke-width="0.18" textLength="4.55" lengthAdjust="spacingAndGlyphs">0</text>
<line x1="178" y1="323.5" x2="181.5" y2="323.5" stroke="#1a1a1a" stroke-width="1" />
<text x="174.9" y="326.15" font-size="8.6" text-anchor="end" stroke="#000" stroke-width="0.18" textLength="9.1" lengthAdjust="spacingAndGlyphs">50</text>
<line x1="178" y1="292.5" x2="181.5" y2="292.5" stroke="#1a1a1a" stroke-width="1" />
<text x="174.9" y="294.9" font-size="8.6" text-anchor="end" stroke="#000" stroke-width="0.18" textLength="13.65" lengthAdjust="spacingAndGlyphs">100</text>
<line x1="181" y1="354.5" x2="243.5" y2="354.5" stroke="#1a1a1a" stroke-width="1" />
<line x1="191.5" y1="354.5" x2="191.5" y2="357.3" stroke="#1a1a1a" stroke-width="1" />
<line x1="212.5" y1="354.5" x2="212.5" y2="357.3" stroke="#1a1a1a" stroke-width="1" />
<line x1="234.5" y1="354.5" x2="234.5" y2="357.3" stroke="#1a1a1a" stroke-width="1" />
<circle cx="186.67" cy="295.12" r="1.25" fill="#a8002d"/>
<circle cx="186.68" cy="299.5" r="1.25" fill="#a8002d"/>
<circle cx="188.43" cy="300.75" r="1.25" fill="#a8002d"/>
<circle cx="187.72" cy="302.62" r="1.25" fill="#a8002d"/>
<circle cx="185.94" cy="304.5" r="1.25" fill="#a8002d"/>
<circle cx="185.81" cy="305.12" r="1.25" fill="#a8002d"/>
<circle cx="185.88" cy="306.38" r="1.25" fill="#a8002d"/>
<circle cx="188.3" cy="308.25" r="1.25" fill="#a8002d"/>
<circle cx="187.98" cy="309.5" r="1.25" fill="#a8002d"/>
<circle cx="185.87" cy="312" r="1.25" fill="#a8002d"/>
<circle cx="188.04" cy="313.25" r="1.25" fill="#a8002d"/>
<circle cx="188.54" cy="316.38" r="1.25" fill="#a8002d"/>
<line x1="187.5" y1="298.88" x2="187.5" y2="311.38" stroke="#1a1a1a" stroke-width="0.9" />
<line x1="185.6" y1="298.5" x2="188.4" y2="298.5" stroke="#1a1a1a" stroke-width="0.9" />
<line x1="185.6" y1="311.5" x2="188.4" y2="311.5" stroke="#1a1a1a" stroke-width="0.9" />
<line x1="184.3" y1="304.5" x2="189.7" y2="304.5" stroke="#1a1a1a" stroke-width="1.2" />
<circle cx="195.9" cy="298.88" r="1.2" fill="#7f9cca"/>
<circle cx="195.9" cy="298.88" r="0.5" fill="#3f5f9a"/>
<circle cx="194.92" cy="300.12" r="1.2" fill="#7f9cca"/>
<circle cx="194.92" cy="300.12" r="0.5" fill="#3f5f9a"/>
<circle cx="195.56" cy="314.5" r="1.2" fill="#7f9cca"/>
<circle cx="195.56" cy="314.5" r="0.5" fill="#3f5f9a"/>
<circle cx="194.22" cy="317.62" r="1.2" fill="#7f9cca"/>
<circle cx="194.22" cy="317.62" r="0.5" fill="#3f5f9a"/>
<circle cx="193.85" cy="320.12" r="1.2" fill="#7f9cca"/>
<circle cx="193.85" cy="320.12" r="0.5" fill="#3f5f9a"/>
<circle cx="196.91" cy="323.25" r="1.2" fill="#7f9cca"/>
<circle cx="196.91" cy="323.25" r="0.5" fill="#3f5f9a"/>
<circle cx="195.88" cy="326.38" r="1.2" fill="#7f9cca"/>
<circle cx="195.88" cy="326.38" r="0.5" fill="#3f5f9a"/>
<circle cx="195.49" cy="330.75" r="1.2" fill="#7f9cca"/>
<circle cx="195.49" cy="330.75" r="0.5" fill="#3f5f9a"/>
<circle cx="196.79" cy="332.62" r="1.2" fill="#7f9cca"/>
<circle cx="196.79" cy="332.62" r="0.5" fill="#3f5f9a"/>
<circle cx="195.19" cy="337" r="1.2" fill="#7f9cca"/>
<circle cx="195.19" cy="337" r="0.5" fill="#3f5f9a"/>
<line x1="195.5" y1="305.12" x2="195.5" y2="330.75" stroke="#1a1a1a" stroke-width="0.9" />
<line x1="194" y1="305.5" x2="196.8" y2="305.5" stroke="#1a1a1a" stroke-width="0.9" />
<line x1="194" y1="330.5" x2="196.8" y2="330.5" stroke="#1a1a1a" stroke-width="0.9" />
<line x1="192.7" y1="318.5" x2="198.1" y2="318.5" stroke="#1a1a1a" stroke-width="1.2" />
<circle cx="209.69" cy="297" r="1.25" fill="#a8002d"/>
<circle cx="209.54" cy="297.62" r="1.25" fill="#a8002d"/>
<circle cx="207.58" cy="302.62" r="1.25" fill="#a8002d"/>
<circle cx="207.71" cy="303.88" r="1.25" fill="#a8002d"/>
<circle cx="207.84" cy="304.5" r="1.25" fill="#a8002d"/>
<circle cx="207.67" cy="315.12" r="1.25" fill="#a8002d"/>
<circle cx="208.78" cy="316.38" r="1.25" fill="#a8002d"/>
<circle cx="207.73" cy="329.5" r="1.25" fill="#a8002d"/>
<line x1="208.5" y1="297.62" x2="208.5" y2="317" stroke="#1a1a1a" stroke-width="0.9" />
<line x1="207.1" y1="297.5" x2="209.9" y2="297.5" stroke="#1a1a1a" stroke-width="0.9" />
<line x1="207.1" y1="317.5" x2="209.9" y2="317.5" stroke="#1a1a1a" stroke-width="0.9" />
<line x1="205.8" y1="307.5" x2="211.2" y2="307.5" stroke="#1a1a1a" stroke-width="1.2" />
<circle cx="216.64" cy="295.12" r="1.2" fill="#7f9cca"/>
<circle cx="216.64" cy="295.12" r="0.5" fill="#3f5f9a"/>
<circle cx="215.72" cy="301.38" r="1.2" fill="#7f9cca"/>
<circle cx="215.72" cy="301.38" r="0.5" fill="#3f5f9a"/>
<circle cx="218.21" cy="302.62" r="1.2" fill="#7f9cca"/>
<circle cx="218.21" cy="302.62" r="0.5" fill="#3f5f9a"/>
<circle cx="216.43" cy="303.88" r="1.2" fill="#7f9cca"/>
<circle cx="216.43" cy="303.88" r="0.5" fill="#3f5f9a"/>
<circle cx="216.77" cy="321.38" r="1.2" fill="#7f9cca"/>
<circle cx="216.77" cy="321.38" r="0.5" fill="#3f5f9a"/>
<circle cx="217.17" cy="323.25" r="1.2" fill="#7f9cca"/>
<circle cx="217.17" cy="323.25" r="0.5" fill="#3f5f9a"/>
<circle cx="218.19" cy="340.12" r="1.2" fill="#7f9cca"/>
<circle cx="218.19" cy="340.12" r="0.5" fill="#3f5f9a"/>
<line x1="216.5" y1="295.12" x2="216.5" y2="323.25" stroke="#1a1a1a" stroke-width="0.9" />
<line x1="215.5" y1="295.5" x2="218.3" y2="295.5" stroke="#1a1a1a" stroke-width="0.9" />
<line x1="215.5" y1="323.5" x2="218.3" y2="323.5" stroke="#1a1a1a" stroke-width="0.9" />
<line x1="214.2" y1="309.5" x2="219.6" y2="309.5" stroke="#1a1a1a" stroke-width="1.2" />
<circle cx="229.75" cy="293.25" r="1.25" fill="#a8002d"/>
<circle cx="231.34" cy="295.12" r="1.25" fill="#a8002d"/>
<circle cx="230.01" cy="301.38" r="1.25" fill="#a8002d"/>
<circle cx="230.1" cy="303.25" r="1.25" fill="#a8002d"/>
<circle cx="230.08" cy="305.75" r="1.25" fill="#a8002d"/>
<circle cx="228.46" cy="309.5" r="1.25" fill="#a8002d"/>
<circle cx="229.81" cy="315.75" r="1.25" fill="#a8002d"/>
<circle cx="228.99" cy="319.5" r="1.25" fill="#a8002d"/>
<circle cx="228.41" cy="325.12" r="1.25" fill="#a8002d"/>
<line x1="230.5" y1="294.5" x2="230.5" y2="317" stroke="#1a1a1a" stroke-width="0.9" />
<line x1="228.6" y1="294.5" x2="231.4" y2="294.5" stroke="#1a1a1a" stroke-width="0.9" />
<line x1="228.6" y1="317.5" x2="231.4" y2="317.5" stroke="#1a1a1a" stroke-width="0.9" />
<line x1="227.3" y1="305.5" x2="232.7" y2="305.5" stroke="#1a1a1a" stroke-width="1.2" />
<circle cx="239.36" cy="295.12" r="1.2" fill="#7f9cca"/>
<circle cx="239.36" cy="295.12" r="0.5" fill="#3f5f9a"/>
<circle cx="237.35" cy="296.38" r="1.2" fill="#7f9cca"/>
<circle cx="237.35" cy="296.38" r="0.5" fill="#3f5f9a"/>
<circle cx="238.32" cy="297.62" r="1.2" fill="#7f9cca"/>
<circle cx="238.32" cy="297.62" r="0.5" fill="#3f5f9a"/>
<circle cx="239.12" cy="298.88" r="1.2" fill="#7f9cca"/>
<circle cx="239.12" cy="298.88" r="0.5" fill="#3f5f9a"/>
<circle cx="238.58" cy="300.75" r="1.2" fill="#7f9cca"/>
<circle cx="238.58" cy="300.75" r="0.5" fill="#3f5f9a"/>
<circle cx="237.84" cy="302" r="1.2" fill="#7f9cca"/>
<circle cx="237.84" cy="302" r="0.5" fill="#3f5f9a"/>
<circle cx="238.46" cy="303.25" r="1.2" fill="#7f9cca"/>
<circle cx="238.46" cy="303.25" r="0.5" fill="#3f5f9a"/>
<circle cx="238.58" cy="304.5" r="1.2" fill="#7f9cca"/>
<circle cx="238.58" cy="304.5" r="0.5" fill="#3f5f9a"/>
<circle cx="239.31" cy="305.75" r="1.2" fill="#7f9cca"/>
<circle cx="239.31" cy="305.75" r="0.5" fill="#3f5f9a"/>
<circle cx="237.14" cy="313.88" r="1.2" fill="#7f9cca"/>
<circle cx="237.14" cy="313.88" r="0.5" fill="#3f5f9a"/>
<line x1="238.5" y1="296.38" x2="238.5" y2="307" stroke="#1a1a1a" stroke-width="0.9" />
<line x1="237" y1="296.5" x2="239.8" y2="296.5" stroke="#1a1a1a" stroke-width="0.9" />
<line x1="237" y1="307.5" x2="239.8" y2="307.5" stroke="#1a1a1a" stroke-width="0.9" />
<line x1="235.7" y1="301.5" x2="241.1" y2="301.5" stroke="#1a1a1a" stroke-width="1.2" />
<path d="M186.5 290 V288.5 H195.5 V297" fill="none" stroke="#1a1a1a" stroke-width="0.9"/>
<text x="191.05" y="288.6" font-size="6.4" text-anchor="middle" stroke="#000" stroke-width="0.18">*</text>
<text x="0" y="0" font-size="8.3" text-anchor="end" stroke="#000" stroke-width="0.18" transform="translate(193.7 364) rotate(-45)">HSC<tspan font-size="6" dy="-3.2" stroke-width="0.06">CD49b−</tspan></text>
<text x="0" y="0" font-size="8.3" text-anchor="end" stroke="#000" stroke-width="0.18" transform="translate(215.2 364) rotate(-45)">HSC<tspan font-size="6" dy="-3.2" stroke-width="0.06">CD49b+</tspan></text>
<text x="0" y="0" font-size="8.3" text-anchor="end" stroke="#000" stroke-width="0.18" transform="translate(236.7 364) rotate(-45)">MPP1</text>
<rect x="6.5" y="421" width="14" height="44.8" fill="none" stroke="#b3263f" stroke-width="1.1"/>
<text x="0" y="0" font-size="8.4" stroke="#000" stroke-width="0.18" textLength="40.2" lengthAdjust="spacingAndGlyphs" transform="translate(17.9 464.3) rotate(-90)">HSC<tspan font-size="5.8" dy="-3.5" stroke-width="0.06">CD49b+</tspan></text>
<text x="0" y="0" font-size="10.2" text-anchor="middle" font-weight="bold" textLength="46.8" lengthAdjust="spacingAndGlyphs" transform="translate(32 442.4) rotate(-90)">Donor cells (%)</text>
<line x1="57.5" y1="408.8" x2="57.5" y2="476" stroke="#1a1a1a" stroke-width="1" />
<line x1="54" y1="475.5" x2="57.5" y2="475.5" stroke="#1a1a1a" stroke-width="1" />
<text x="51" y="478.4" font-size="8.6" text-anchor="end" stroke="#000" stroke-width="0.18" textLength="4.55" lengthAdjust="spacingAndGlyphs">0</text>
<line x1="54" y1="462.5" x2="57.5" y2="462.5" stroke="#1a1a1a" stroke-width="1" />
<text x="51" y="465.6" font-size="8.6" text-anchor="end" stroke="#000" stroke-width="0.18" textLength="9.1" lengthAdjust="spacingAndGlyphs">20</text>
<line x1="54" y1="449.5" x2="57.5" y2="449.5" stroke="#1a1a1a" stroke-width="1" />
<text x="51" y="452.8" font-size="8.6" text-anchor="end" stroke="#000" stroke-width="0.18" textLength="9.1" lengthAdjust="spacingAndGlyphs">40</text>
<line x1="54" y1="437.5" x2="57.5" y2="437.5" stroke="#1a1a1a" stroke-width="1" />
<text x="51" y="440" font-size="8.6" text-anchor="end" stroke="#000" stroke-width="0.18" textLength="9.1" lengthAdjust="spacingAndGlyphs">60</text>
<line x1="54" y1="424.5" x2="57.5" y2="424.5" stroke="#1a1a1a" stroke-width="1" />
<text x="51" y="427.2" font-size="8.6" text-anchor="end" stroke="#000" stroke-width="0.18" textLength="9.1" lengthAdjust="spacingAndGlyphs">80</text>
<line x1="54" y1="411.5" x2="57.5" y2="411.5" stroke="#1a1a1a" stroke-width="1" />
<text x="51" y="414.4" font-size="8.6" text-anchor="end" stroke="#000" stroke-width="0.18" textLength="13.65" lengthAdjust="spacingAndGlyphs">100</text>
<line x1="57" y1="475.5" x2="150.2" y2="475.5" stroke="#1a1a1a" stroke-width="1" />
<line x1="65.5" y1="475.5" x2="65.5" y2="478.3" stroke="#1a1a1a" stroke-width="1" />
<text x="65.9" y="489.1" font-size="8.8" text-anchor="middle" stroke="#000" stroke-width="0.18" textLength="4.6" lengthAdjust="spacingAndGlyphs">4</text>
<line x1="84.5" y1="475.5" x2="84.5" y2="478.3" stroke="#1a1a1a" stroke-width="1" />
<text x="84.94" y="489.1" font-size="8.8" text-anchor="middle" stroke="#000" stroke-width="0.18" textLength="4.6" lengthAdjust="spacingAndGlyphs">8</text>
<line x1="103.5" y1="475.5" x2="103.5" y2="478.3" stroke="#1a1a1a" stroke-width="1" />
<text x="103.98" y="489.1" font-size="8.8" text-anchor="middle" stroke="#000" stroke-width="0.18" textLength="9.2" lengthAdjust="spacingAndGlyphs">12</text>
<line x1="123.5" y1="475.5" x2="123.5" y2="478.3" stroke="#1a1a1a" stroke-width="1" />
<text x="123.02" y="489.1" font-size="8.8" text-anchor="middle" stroke="#000" stroke-width="0.18" textLength="9.2" lengthAdjust="spacingAndGlyphs">16</text>
<line x1="142.5" y1="475.5" x2="142.5" y2="478.3" stroke="#1a1a1a" stroke-width="1" />
<text x="142.06" y="489.1" font-size="8.8" text-anchor="middle" stroke="#000" stroke-width="0.18" textLength="9.2" lengthAdjust="spacingAndGlyphs">20</text>
<rect x="59.95" y="452.78" width="4.95" height="22.72" fill="#a8002d"/>
<line x1="62.5" y1="452.78" x2="62.5" y2="446.7" stroke="#1a1a1a" stroke-width="0.9" />
<line x1="61.13" y1="446.5" x2="63.73" y2="446.5" stroke="#1a1a1a" stroke-width="0.9" />
<circle cx="62.44" cy="458.75" r="1.15" fill="#000"/>
<circle cx="62.46" cy="457.87" r="1.15" fill="#000"/>
<circle cx="63.04" cy="456.56" r="1.15" fill="#000"/>
<circle cx="62.27" cy="454.65" r="1.15" fill="#000"/>
<circle cx="62.53" cy="453.71" r="1.15" fill="#000"/>
<circle cx="62.35" cy="452.37" r="1.15" fill="#000"/>
<circle cx="63.84" cy="450.84" r="1.15" fill="#000"/>
<circle cx="63.06" cy="449.37" r="1.15" fill="#000"/>
<circle cx="63.63" cy="448.69" r="1.15" fill="#000"/>
<circle cx="63.84" cy="447.19" r="1.15" fill="#000"/>
<circle cx="61.66" cy="442.22" r="1.15" fill="#000"/>
<rect x="66.9" y="452.46" width="4.95" height="23.04" fill="#2c4a84"/>
<line x1="69.5" y1="452.46" x2="69.5" y2="447.34" stroke="#1a1a1a" stroke-width="0.9" />
<line x1="68.08" y1="447.5" x2="70.67" y2="447.5" stroke="#1a1a1a" stroke-width="0.9" />
<circle cx="70.28" cy="457.49" r="1.1" fill="#444" stroke="#111" stroke-width="0.75"/>
<circle cx="70.65" cy="456" r="1.1" fill="#444" stroke="#111" stroke-width="0.75"/>
<circle cx="68.27" cy="455.04" r="1.1" fill="#444" stroke="#111" stroke-width="0.75"/>
<circle cx="70.07" cy="454.72" r="1.1" fill="#444" stroke="#111" stroke-width="0.75"/>
<circle cx="69.89" cy="453.66" r="1.1" fill="#444" stroke="#111" stroke-width="0.75"/>
<circle cx="68.23" cy="452.24" r="1.1" fill="#444" stroke="#111" stroke-width="0.75"/>
<circle cx="70.6" cy="451.56" r="1.1" fill="#444" stroke="#111" stroke-width="0.75"/>
<circle cx="70.87" cy="450.31" r="1.1" fill="#444" stroke="#111" stroke-width="0.75"/>
<circle cx="68.48" cy="449.41" r="1.1" fill="#444" stroke="#111" stroke-width="0.75"/>
<circle cx="70.82" cy="447.7" r="1.1" fill="#444" stroke="#111" stroke-width="0.75"/>
<circle cx="69.05" cy="438.38" r="1.1" fill="#444" stroke="#111" stroke-width="0.75"/>
<rect x="78.99" y="446.7" width="4.95" height="28.8" fill="#a8002d"/>
<line x1="81.5" y1="446.7" x2="81.5" y2="442.22" stroke="#1a1a1a" stroke-width="0.9" />
<line x1="80.17" y1="442.5" x2="82.77" y2="442.5" stroke="#1a1a1a" stroke-width="0.9" />
<circle cx="79.93" cy="451.17" r="1.15" fill="#000"/>
<circle cx="81.64" cy="449.76" r="1.15" fill="#000"/>
<circle cx="81.27" cy="448.96" r="1.15" fill="#000"/>
<circle cx="79.92" cy="448.65" r="1.15" fill="#000"/>
<circle cx="80.93" cy="447.46" r="1.15" fill="#000"/>
<circle cx="81.86" cy="446.44" r="1.15" fill="#000"/>
<circle cx="81.5" cy="445.66" r="1.15" fill="#000"/>
<circle cx="80.07" cy="444.86" r="1.15" fill="#000"/>
<circle cx="83.02" cy="443.8" r="1.15" fill="#000"/>
<circle cx="82.39" cy="442.48" r="1.15" fill="#000"/>
<circle cx="82.97" cy="438.38" r="1.15" fill="#000"/>
<rect x="85.94" y="450.22" width="4.95" height="25.28" fill="#2c4a84"/>
<line x1="88.5" y1="450.22" x2="88.5" y2="439.66" stroke="#1a1a1a" stroke-width="0.9" />
<line x1="87.11" y1="439.5" x2="89.71" y2="439.5" stroke="#1a1a1a" stroke-width="0.9" />
<circle cx="87.29" cy="461.6" r="1.1" fill="#444" stroke="#111" stroke-width="0.75"/>
<circle cx="89.76" cy="459.03" r="1.1" fill="#444" stroke="#111" stroke-width="0.75"/>
<circle cx="88.64" cy="457.31" r="1.1" fill="#444" stroke="#111" stroke-width="0.75"/>
<circle cx="89.06" cy="453.46" r="1.1" fill="#444" stroke="#111" stroke-width="0.75"/>
<circle cx="87.1" cy="452.37" r="1.1" fill="#444" stroke="#111" stroke-width="0.75"/>
<circle cx="87" cy="450.46" r="1.1" fill="#444" stroke="#111" stroke-width="0.75"/>
<circle cx="89.02" cy="447.59" r="1.1" fill="#444" stroke="#111" stroke-width="0.75"/>
<circle cx="88.18" cy="444.29" r="1.1" fill="#444" stroke="#111" stroke-width="0.75"/>
<circle cx="87.05" cy="442.28" r="1.1" fill="#444" stroke="#111" stroke-width="0.75"/>
<circle cx="89.82" cy="441.3" r="1.1" fill="#444" stroke="#111" stroke-width="0.75"/>
<circle cx="88.85" cy="437.1" r="1.1" fill="#444" stroke="#111" stroke-width="0.75"/>
<rect x="98.03" y="440.94" width="4.95" height="34.56" fill="#a8002d"/>
<line x1="100.5" y1="440.94" x2="100.5" y2="435.18" stroke="#1a1a1a" stroke-width="0.9" />
<line x1="99.2" y1="435.5" x2="101.8" y2="435.5" stroke="#1a1a1a" stroke-width="0.9" />
<circle cx="99.32" cy="446.31" r="1.15" fill="#000"/>
<circle cx="100.59" cy="445.97" r="1.15" fill="#000"/>
<circle cx="99.67" cy="443.82" r="1.15" fill="#000"/>
<circle cx="99.26" cy="443.57" r="1.15" fill="#000"/>
<circle cx="99.42" cy="441.39" r="1.15" fill="#000"/>
<circle cx="99.07" cy="440.68" r="1.15" fill="#000"/>
<circle cx="99.55" cy="439.61" r="1.15" fill="#000"/>
<circle cx="99.9" cy="438.14" r="1.15" fill="#000"/>
<circle cx="99.88" cy="436.48" r="1.15" fill="#000"/>
<circle cx="101.34" cy="436.07" r="1.15" fill="#000"/>
<circle cx="99.83" cy="432.62" r="1.15" fill="#000"/>
<rect x="104.98" y="448.94" width="4.95" height="26.56" fill="#2c4a84"/>
<line x1="107.5" y1="448.94" x2="107.5" y2="437.1" stroke="#1a1a1a" stroke-width="0.9" />
<line x1="106.16" y1="437.5" x2="108.76" y2="437.5" stroke="#1a1a1a" stroke-width="0.9" />
<circle cx="108.85" cy="460.72" r="1.1" fill="#444" stroke="#111" stroke-width="0.75"/>
<circle cx="106.2" cy="459.04" r="1.1" fill="#444" stroke="#111" stroke-width="0.75"/>
<circle cx="108.48" cy="456.13" r="1.1" fill="#444" stroke="#111" stroke-width="0.75"/>
<circle cx="107.24" cy="454.46" r="1.1" fill="#444" stroke="#111" stroke-width="0.75"/>
<circle cx="107.44" cy="451.4" r="1.1" fill="#444" stroke="#111" stroke-width="0.75"/>
<circle cx="108.53" cy="449.49" r="1.1" fill="#444" stroke="#111" stroke-width="0.75"/>
<circle cx="107.11" cy="445.22" r="1.1" fill="#444" stroke="#111" stroke-width="0.75"/>
<circle cx="107.48" cy="443.19" r="1.1" fill="#444" stroke="#111" stroke-width="0.75"/>
<circle cx="108.06" cy="441.6" r="1.1" fill="#444" stroke="#111" stroke-width="0.75"/>
<circle cx="109" cy="438.41" r="1.1" fill="#444" stroke="#111" stroke-width="0.75"/>
<circle cx="106.95" cy="433.26" r="1.1" fill="#444" stroke="#111" stroke-width="0.75"/>
<rect x="117.07" y="438.38" width="4.95" height="37.12" fill="#a8002d"/>
<line x1="119.5" y1="438.38" x2="119.5" y2="426.22" stroke="#1a1a1a" stroke-width="0.9" />
<line x1="118.25" y1="426.5" x2="120.85" y2="426.5" stroke="#1a1a1a" stroke-width="0.9" />
<circle cx="118.47" cy="449.63" r="1.15" fill="#000"/>
<circle cx="118.22" cy="447.4" r="1.15" fill="#000"/>
<circle cx="120.64" cy="445.02" r="1.15" fill="#000"/>
<circle cx="120.73" cy="443.06" r="1.15" fill="#000"/>
<circle cx="120.09" cy="440.65" r="1.15" fill="#000"/>
<circle cx="118.85" cy="438.85" r="1.15" fill="#000"/>
<circle cx="118.72" cy="436.1" r="1.15" fill="#000"/>
<circle cx="118.88" cy="433.7" r="1.15" fill="#000"/>
<circle cx="119.42" cy="429.44" r="1.15" fill="#000"/>
<circle cx="118.45" cy="428.12" r="1.15" fill="#000"/>
<rect x="124.02" y="449.26" width="4.95" height="26.24" fill="#2c4a84"/>
<line x1="126.5" y1="449.26" x2="126.5" y2="435.82" stroke="#1a1a1a" stroke-width="0.9" />
<line x1="125.2" y1="435.5" x2="127.8" y2="435.5" stroke="#1a1a1a" stroke-width="0.9" />
<circle cx="126.12" cy="462.79" r="1.1" fill="#444" stroke="#111" stroke-width="0.75"/>
<circle cx="126.41" cy="460.48" r="1.1" fill="#444" stroke="#111" stroke-width="0.75"/>
<circle cx="126.5" cy="455.68" r="1.1" fill="#444" stroke="#111" stroke-width="0.75"/>
<circle cx="125.54" cy="452.83" r="1.1" fill="#444" stroke="#111" stroke-width="0.75"/>
<circle cx="126.51" cy="451.21" r="1.1" fill="#444" stroke="#111" stroke-width="0.75"/>
<circle cx="124.91" cy="449.24" r="1.1" fill="#444" stroke="#111" stroke-width="0.75"/>
<circle cx="125.74" cy="444.38" r="1.1" fill="#444" stroke="#111" stroke-width="0.75"/>
<circle cx="125.18" cy="443.41" r="1.1" fill="#444" stroke="#111" stroke-width="0.75"/>
<circle cx="126.17" cy="440.46" r="1.1" fill="#444" stroke="#111" stroke-width="0.75"/>
<circle cx="125.03" cy="438.64" r="1.1" fill="#444" stroke="#111" stroke-width="0.75"/>
<circle cx="124.97" cy="430.7" r="1.1" fill="#444" stroke="#111" stroke-width="0.75"/>
<circle cx="125.87" cy="430.7" r="1.1" fill="#444" stroke="#111" stroke-width="0.75"/>
<rect x="136.11" y="437.42" width="4.95" height="38.08" fill="#a8002d"/>
<line x1="138.5" y1="437.42" x2="138.5" y2="429.42" stroke="#1a1a1a" stroke-width="0.9" />
<line x1="137.28" y1="429.5" x2="139.89" y2="429.5" stroke="#1a1a1a" stroke-width="0.9" />
<circle cx="137.46" cy="445.83" r="1.15" fill="#000"/>
<circle cx="139.3" cy="443.56" r="1.15" fill="#000"/>
<circle cx="139.04" cy="441.97" r="1.15" fill="#000"/>
<circle cx="137.13" cy="439.92" r="1.15" fill="#000"/>
<circle cx="139.66" cy="438.4" r="1.15" fill="#000"/>
<circle cx="139.84" cy="436.62" r="1.15" fill="#000"/>
<circle cx="138.99" cy="434.66" r="1.15" fill="#000"/>
<circle cx="139.33" cy="433.81" r="1.15" fill="#000"/>
<circle cx="139.58" cy="432.23" r="1.15" fill="#000"/>
<circle cx="137.43" cy="429.45" r="1.15" fill="#000"/>
<circle cx="138.66" cy="426.86" r="1.15" fill="#000"/>
<rect x="143.06" y="449.58" width="4.95" height="25.92" fill="#2c4a84"/>
<line x1="145.5" y1="449.58" x2="145.5" y2="439.02" stroke="#1a1a1a" stroke-width="0.9" />
<line x1="144.23" y1="439.5" x2="146.84" y2="439.5" stroke="#1a1a1a" stroke-width="0.9" />
<circle cx="144.36" cy="460.08" r="1.1" fill="#444" stroke="#111" stroke-width="0.75"/>
<circle cx="145.09" cy="457.13" r="1.1" fill="#444" stroke="#111" stroke-width="0.75"/>
<circle cx="144.27" cy="454.98" r="1.1" fill="#444" stroke="#111" stroke-width="0.75"/>
<circle cx="146.61" cy="452.71" r="1.1" fill="#444" stroke="#111" stroke-width="0.75"/>
<circle cx="145.72" cy="451.03" r="1.1" fill="#444" stroke="#111" stroke-width="0.75"/>
<circle cx="145.94" cy="448.13" r="1.1" fill="#444" stroke="#111" stroke-width="0.75"/>
<circle cx="145.94" cy="446.38" r="1.1" fill="#444" stroke="#111" stroke-width="0.75"/>
<circle cx="146.11" cy="444.14" r="1.1" fill="#444" stroke="#111" stroke-width="0.75"/>
<circle cx="145.5" cy="442.95" r="1.1" fill="#444" stroke="#111" stroke-width="0.75"/>
<circle cx="143.95" cy="441.17" r="1.1" fill="#444" stroke="#111" stroke-width="0.75"/>
<circle cx="146.49" cy="431.98" r="1.1" fill="#444" stroke="#111" stroke-width="0.75"/>
<path d="M118.5 418.3 V416.5 H126.5 V424.4" fill="none" stroke="#1a1a1a" stroke-width="0.9"/>
<text x="122.55" y="416.9" font-size="6.4" text-anchor="middle" stroke="#000" stroke-width="0.18">*</text>
<path d="M137.5 418.3 V416.5 H144.5 V424.4" fill="none" stroke="#1a1a1a" stroke-width="0.9"/>
<text x="141.6" y="416.9" font-size="6.4" text-anchor="middle" stroke="#000" stroke-width="0.18" letter-spacing="0.9">**</text>
<text x="63.7" y="502" font-size="10" font-weight="bold" textLength="80" lengthAdjust="spacingAndGlyphs">Weeks post-transplantation</text>
<line x1="181.5" y1="410.8" x2="181.5" y2="476" stroke="#1a1a1a" stroke-width="1" />
<line x1="178" y1="475.5" x2="181.5" y2="475.5" stroke="#1a1a1a" stroke-width="1" />
<text x="174.9" y="478.4" font-size="8.6" text-anchor="end" stroke="#000" stroke-width="0.18" textLength="4.55" lengthAdjust="spacingAndGlyphs">0</text>
<line x1="178" y1="444.5" x2="181.5" y2="444.5" stroke="#1a1a1a" stroke-width="1" />
<text x="174.9" y="447.4" font-size="8.6" text-anchor="end" stroke="#000" stroke-width="0.18" textLength="9.1" lengthAdjust="spacingAndGlyphs">50</text>
<line x1="178" y1="413.5" x2="181.5" y2="413.5" stroke="#1a1a1a" stroke-width="1" />
<text x="174.9" y="416.4" font-size="8.6" text-anchor="end" stroke="#000" stroke-width="0.18" textLength="13.65" lengthAdjust="spacingAndGlyphs">100</text>
<line x1="181" y1="475.5" x2="243.8" y2="475.5" stroke="#1a1a1a" stroke-width="1" />
<line x1="191.5" y1="475.5" x2="191.5" y2="478.3" stroke="#1a1a1a" stroke-width="1" />
<line x1="212.5" y1="475.5" x2="212.5" y2="478.3" stroke="#1a1a1a" stroke-width="1" />
<line x1="234.5" y1="475.5" x2="234.5" y2="478.3" stroke="#1a1a1a" stroke-width="1" />
<circle cx="187.79" cy="424.04" r="1.25" fill="#a8002d"/>
<circle cx="187.01" cy="430.24" r="1.25" fill="#a8002d"/>
<circle cx="187.11" cy="431.48" r="1.25" fill="#a8002d"/>
<circle cx="187.51" cy="432.72" r="1.25" fill="#a8002d"/>
<circle cx="185.61" cy="444.5" r="1.25" fill="#a8002d"/>
<circle cx="187.76" cy="445.74" r="1.25" fill="#a8002d"/>
<circle cx="186.21" cy="450.08" r="1.25" fill="#a8002d"/>
<circle cx="185.64" cy="450.7" r="1.25" fill="#a8002d"/>
<circle cx="186.25" cy="456.9" r="1.25" fill="#a8002d"/>
<circle cx="187.73" cy="461.86" r="1.25" fill="#a8002d"/>
<circle cx="186.06" cy="468.06" r="1.25" fill="#a8002d"/>
<circle cx="187.77" cy="473.64" r="1.25" fill="#a8002d"/>
<circle cx="188.86" cy="475" r="1.25" fill="#a8002d"/>
<circle cx="189.2" cy="475" r="1.25" fill="#a8002d"/>
<line x1="187.5" y1="432.72" x2="187.5" y2="468.06" stroke="#1a1a1a" stroke-width="0.9" />
<line x1="185.6" y1="432.5" x2="188.4" y2="432.5" stroke="#1a1a1a" stroke-width="0.9" />
<line x1="185.6" y1="468.5" x2="188.4" y2="468.5" stroke="#1a1a1a" stroke-width="0.9" />
<line x1="184.3" y1="450.5" x2="189.7" y2="450.5" stroke="#1a1a1a" stroke-width="1.2" />
<circle cx="195.02" cy="428.38" r="1.2" fill="#7f9cca"/>
<circle cx="195.02" cy="428.38" r="0.5" fill="#3f5f9a"/>
<circle cx="195.33" cy="456.9" r="1.2" fill="#7f9cca"/>
<circle cx="195.33" cy="456.9" r="0.5" fill="#3f5f9a"/>
<circle cx="195.99" cy="463.1" r="1.2" fill="#7f9cca"/>
<circle cx="195.99" cy="463.1" r="0.5" fill="#3f5f9a"/>
<circle cx="196.25" cy="464.34" r="1.2" fill="#7f9cca"/>
<circle cx="196.25" cy="464.34" r="0.5" fill="#3f5f9a"/>
<circle cx="195.77" cy="466.2" r="1.2" fill="#7f9cca"/>
<circle cx="195.77" cy="466.2" r="0.5" fill="#3f5f9a"/>
<circle cx="195.86" cy="468.06" r="1.2" fill="#7f9cca"/>
<circle cx="195.86" cy="468.06" r="0.5" fill="#3f5f9a"/>
<circle cx="194.05" cy="469.3" r="1.2" fill="#7f9cca"/>
<circle cx="194.05" cy="469.3" r="0.5" fill="#3f5f9a"/>
<circle cx="194.27" cy="470.54" r="1.2" fill="#7f9cca"/>
<circle cx="194.27" cy="470.54" r="0.5" fill="#3f5f9a"/>
<circle cx="194.61" cy="472.4" r="1.2" fill="#7f9cca"/>
<circle cx="194.61" cy="472.4" r="0.5" fill="#3f5f9a"/>
<circle cx="196.18" cy="473.64" r="1.2" fill="#7f9cca"/>
<circle cx="196.18" cy="473.64" r="0.5" fill="#3f5f9a"/>
<circle cx="194.77" cy="474.26" r="1.2" fill="#7f9cca"/>
<circle cx="194.77" cy="474.26" r="0.5" fill="#3f5f9a"/>
<circle cx="197.23" cy="475" r="1.15" fill="#4768a6"/>
<circle cx="197.6" cy="475" r="1.15" fill="#4768a6"/>
<line x1="195.5" y1="452.56" x2="195.5" y2="475.5" stroke="#1a1a1a" stroke-width="0.9" />
<line x1="194" y1="452.5" x2="196.8" y2="452.5" stroke="#1a1a1a" stroke-width="0.9" />
<line x1="192.7" y1="465.5" x2="198.1" y2="465.5" stroke="#1a1a1a" stroke-width="1.2" />
<circle cx="207.09" cy="415.36" r="1.25" fill="#a8002d"/>
<circle cx="207.76" cy="419.08" r="1.25" fill="#a8002d"/>
<circle cx="209.05" cy="420.94" r="1.25" fill="#a8002d"/>
<circle cx="209.11" cy="429" r="1.25" fill="#a8002d"/>
<circle cx="209.06" cy="430.24" r="1.25" fill="#a8002d"/>
<circle cx="207.83" cy="430.86" r="1.25" fill="#a8002d"/>
<circle cx="208.55" cy="444.5" r="1.25" fill="#a8002d"/>
<circle cx="208.39" cy="447.6" r="1.25" fill="#a8002d"/>
<circle cx="208.39" cy="460" r="1.25" fill="#a8002d"/>
<circle cx="207.28" cy="464.34" r="1.25" fill="#a8002d"/>
<circle cx="209.76" cy="469.3" r="1.25" fill="#a8002d"/>
<circle cx="210.7" cy="475" r="1.25" fill="#a8002d"/>
<line x1="208.5" y1="420.94" x2="208.5" y2="460" stroke="#1a1a1a" stroke-width="0.9" />
<line x1="207.1" y1="420.5" x2="209.9" y2="420.5" stroke="#1a1a1a" stroke-width="0.9" />
<line x1="207.1" y1="460.5" x2="209.9" y2="460.5" stroke="#1a1a1a" stroke-width="0.9" />
<line x1="205.8" y1="440.5" x2="211.2" y2="440.5" stroke="#1a1a1a" stroke-width="1.2" />
<circle cx="218.43" cy="421.56" r="1.2" fill="#7f9cca"/>
<circle cx="218.43" cy="421.56" r="0.5" fill="#3f5f9a"/>
<circle cx="218.3" cy="424.66" r="1.2" fill="#7f9cca"/>
<circle cx="218.3" cy="424.66" r="0.5" fill="#3f5f9a"/>
<circle cx="215.36" cy="433.96" r="1.2" fill="#7f9cca"/>
<circle cx="215.36" cy="433.96" r="0.5" fill="#3f5f9a"/>
<circle cx="216.77" cy="447.6" r="1.2" fill="#7f9cca"/>
<circle cx="216.77" cy="447.6" r="0.5" fill="#3f5f9a"/>
<circle cx="217.92" cy="463.1" r="1.2" fill="#7f9cca"/>
<circle cx="217.92" cy="463.1" r="0.5" fill="#3f5f9a"/>
<circle cx="218.4" cy="464.96" r="1.2" fill="#7f9cca"/>
<circle cx="218.4" cy="464.96" r="0.5" fill="#3f5f9a"/>
<circle cx="216.74" cy="466.2" r="1.2" fill="#7f9cca"/>
<circle cx="216.74" cy="466.2" r="0.5" fill="#3f5f9a"/>
<circle cx="216.16" cy="467.44" r="1.2" fill="#7f9cca"/>
<circle cx="216.16" cy="467.44" r="0.5" fill="#3f5f9a"/>
<circle cx="215.97" cy="468.06" r="1.2" fill="#7f9cca"/>
<circle cx="215.97" cy="468.06" r="0.5" fill="#3f5f9a"/>
<circle cx="218.33" cy="470.54" r="1.2" fill="#7f9cca"/>
<circle cx="218.33" cy="470.54" r="0.5" fill="#3f5f9a"/>
<circle cx="215.97" cy="473.64" r="1.2" fill="#7f9cca"/>
<circle cx="215.97" cy="473.64" r="0.5" fill="#3f5f9a"/>
<circle cx="219.1" cy="475" r="1.15" fill="#4768a6"/>
<line x1="216.5" y1="437.06" x2="216.5" y2="475.5" stroke="#1a1a1a" stroke-width="0.9" />
<line x1="215.5" y1="437.5" x2="218.3" y2="437.5" stroke="#1a1a1a" stroke-width="0.9" />
<line x1="214.2" y1="455.5" x2="219.6" y2="455.5" stroke="#1a1a1a" stroke-width="1.2" />
<circle cx="228.85" cy="416.6" r="1.25" fill="#a8002d"/>
<circle cx="230.08" cy="419.7" r="1.25" fill="#a8002d"/>
<circle cx="231.45" cy="420.94" r="1.25" fill="#a8002d"/>
<circle cx="228.82" cy="422.8" r="1.25" fill="#a8002d"/>
<circle cx="231.02" cy="424.66" r="1.25" fill="#a8002d"/>
<circle cx="230.03" cy="425.9" r="1.25" fill="#a8002d"/>
<circle cx="231.24" cy="432.1" r="1.25" fill="#a8002d"/>
<circle cx="230.65" cy="444.5" r="1.25" fill="#a8002d"/>
<circle cx="229.14" cy="445.74" r="1.25" fill="#a8002d"/>
<circle cx="231.27" cy="453.18" r="1.25" fill="#a8002d"/>
<circle cx="229.96" cy="454.42" r="1.25" fill="#a8002d"/>
<circle cx="228.48" cy="469.3" r="1.25" fill="#a8002d"/>
<line x1="230.5" y1="419.08" x2="230.5" y2="450.7" stroke="#1a1a1a" stroke-width="0.9" />
<line x1="228.6" y1="419.5" x2="231.4" y2="419.5" stroke="#1a1a1a" stroke-width="0.9" />
<line x1="228.6" y1="450.5" x2="231.4" y2="450.5" stroke="#1a1a1a" stroke-width="0.9" />
<line x1="227.3" y1="434.5" x2="232.7" y2="434.5" stroke="#1a1a1a" stroke-width="1.2" />
<circle cx="236.81" cy="417.22" r="1.2" fill="#7f9cca"/>
<circle cx="236.81" cy="417.22" r="0.5" fill="#3f5f9a"/>
<circle cx="238.37" cy="419.08" r="1.2" fill="#7f9cca"/>
<circle cx="238.37" cy="419.08" r="0.5" fill="#3f5f9a"/>
<circle cx="238.24" cy="424.66" r="1.2" fill="#7f9cca"/>
<circle cx="238.24" cy="424.66" r="0.5" fill="#3f5f9a"/>
<circle cx="237.77" cy="450.7" r="1.2" fill="#7f9cca"/>
<circle cx="237.77" cy="450.7" r="0.5" fill="#3f5f9a"/>
<circle cx="237.25" cy="453.8" r="1.2" fill="#7f9cca"/>
<circle cx="237.25" cy="453.8" r="0.5" fill="#3f5f9a"/>
<circle cx="237.9" cy="454.42" r="1.2" fill="#7f9cca"/>
<circle cx="237.9" cy="454.42" r="0.5" fill="#3f5f9a"/>
<circle cx="237.81" cy="455.04" r="1.2" fill="#7f9cca"/>
<circle cx="237.81" cy="455.04" r="0.5" fill="#3f5f9a"/>
<circle cx="239.49" cy="456.28" r="1.2" fill="#7f9cca"/>
<circle cx="239.49" cy="456.28" r="0.5" fill="#3f5f9a"/>
<circle cx="236.81" cy="456.9" r="1.2" fill="#7f9cca"/>
<circle cx="236.81" cy="456.9" r="0.5" fill="#3f5f9a"/>
<circle cx="239.2" cy="457.52" r="1.2" fill="#7f9cca"/>
<circle cx="239.2" cy="457.52" r="0.5" fill="#3f5f9a"/>
<circle cx="239.49" cy="458.14" r="1.2" fill="#7f9cca"/>
<circle cx="239.49" cy="458.14" r="0.5" fill="#3f5f9a"/>
<circle cx="237.18" cy="466.2" r="1.2" fill="#7f9cca"/>
<circle cx="237.18" cy="466.2" r="0.5" fill="#3f5f9a"/>
<circle cx="239.76" cy="469.3" r="1.2" fill="#7f9cca"/>
<circle cx="239.76" cy="469.3" r="0.5" fill="#3f5f9a"/>
<line x1="238.5" y1="430.24" x2="238.5" y2="466.2" stroke="#1a1a1a" stroke-width="0.9" />
<line x1="237" y1="430.5" x2="239.8" y2="430.5" stroke="#1a1a1a" stroke-width="0.9" />
<line x1="237" y1="466.5" x2="239.8" y2="466.5" stroke="#1a1a1a" stroke-width="0.9" />
<line x1="235.7" y1="448.5" x2="241.1" y2="448.5" stroke="#1a1a1a" stroke-width="1.2" />
<text x="0" y="0" font-size="8.3" text-anchor="end" stroke="#000" stroke-width="0.18" transform="translate(193.7 485) rotate(-45)">HSC<tspan font-size="6" dy="-3.2" stroke-width="0.06">CD49b−</tspan></text>
<text x="0" y="0" font-size="8.3" text-anchor="end" stroke="#000" stroke-width="0.18" transform="translate(215.2 485) rotate(-45)">HSC<tspan font-size="6" dy="-3.2" stroke-width="0.06">CD49b+</tspan></text>
<text x="0" y="0" font-size="8.3" text-anchor="end" stroke="#000" stroke-width="0.18" transform="translate(236.7 485) rotate(-45)">MPP1</text>
<rect x="6.5" y="565" width="14" height="30" fill="none" stroke="#b3263f" stroke-width="1.1"/>
<text x="0" y="0" font-size="8.4" text-anchor="middle" stroke="#000" stroke-width="0.18" transform="translate(16.6 580.8) rotate(-90)">MPP1</text>
<text x="0" y="0" font-size="10.2" text-anchor="middle" font-weight="bold" textLength="47" lengthAdjust="spacingAndGlyphs" transform="translate(32 579.5) rotate(-90)">Donor cells (%)</text>
<line x1="57.5" y1="546.3" x2="57.5" y2="614" stroke="#1a1a1a" stroke-width="1" />
<line x1="54" y1="613.5" x2="57.5" y2="613.5" stroke="#1a1a1a" stroke-width="1" />
<text x="51" y="616.4" font-size="8.6" text-anchor="end" stroke="#000" stroke-width="0.18" textLength="4.55" lengthAdjust="spacingAndGlyphs">0</text>
<line x1="54" y1="600.5" x2="57.5" y2="600.5" stroke="#1a1a1a" stroke-width="1" />
<text x="51" y="603.5" font-size="8.6" text-anchor="end" stroke="#000" stroke-width="0.18" textLength="9.1" lengthAdjust="spacingAndGlyphs">20</text>
<line x1="54" y1="587.5" x2="57.5" y2="587.5" stroke="#1a1a1a" stroke-width="1" />
<text x="51" y="590.6" font-size="8.6" text-anchor="end" stroke="#000" stroke-width="0.18" textLength="9.1" lengthAdjust="spacingAndGlyphs">40</text>
<line x1="54" y1="574.5" x2="57.5" y2="574.5" stroke="#1a1a1a" stroke-width="1" />
<text x="51" y="577.7" font-size="8.6" text-anchor="end" stroke="#000" stroke-width="0.18" textLength="9.1" lengthAdjust="spacingAndGlyphs">60</text>
<line x1="54" y1="561.5" x2="57.5" y2="561.5" stroke="#1a1a1a" stroke-width="1" />
<text x="51" y="564.8" font-size="8.6" text-anchor="end" stroke="#000" stroke-width="0.18" textLength="9.1" lengthAdjust="spacingAndGlyphs">80</text>
<line x1="54" y1="549.5" x2="57.5" y2="549.5" stroke="#1a1a1a" stroke-width="1" />
<text x="51" y="551.9" font-size="8.6" text-anchor="end" stroke="#000" stroke-width="0.18" textLength="13.65" lengthAdjust="spacingAndGlyphs">100</text>
<line x1="57" y1="613.5" x2="150.2" y2="613.5" stroke="#1a1a1a" stroke-width="1" />
<line x1="65.5" y1="613.5" x2="65.5" y2="616.3" stroke="#1a1a1a" stroke-width="1" />
<text x="65.9" y="626.9" font-size="8.8" text-anchor="middle" stroke="#000" stroke-width="0.18" textLength="4.6" lengthAdjust="spacingAndGlyphs">4</text>
<line x1="84.5" y1="613.5" x2="84.5" y2="616.3" stroke="#1a1a1a" stroke-width="1" />
<text x="84.94" y="626.9" font-size="8.8" text-anchor="middle" stroke="#000" stroke-width="0.18" textLength="4.6" lengthAdjust="spacingAndGlyphs">8</text>
<line x1="103.5" y1="613.5" x2="103.5" y2="616.3" stroke="#1a1a1a" stroke-width="1" />
<text x="103.98" y="626.9" font-size="8.8" text-anchor="middle" stroke="#000" stroke-width="0.18" textLength="9.2" lengthAdjust="spacingAndGlyphs">12</text>
<line x1="123.5" y1="613.5" x2="123.5" y2="616.3" stroke="#1a1a1a" stroke-width="1" />
<text x="123.02" y="626.9" font-size="8.8" text-anchor="middle" stroke="#000" stroke-width="0.18" textLength="9.2" lengthAdjust="spacingAndGlyphs">16</text>
<line x1="142.5" y1="613.5" x2="142.5" y2="616.3" stroke="#1a1a1a" stroke-width="1" />
<text x="142.06" y="626.9" font-size="8.8" text-anchor="middle" stroke="#000" stroke-width="0.18" textLength="9.2" lengthAdjust="spacingAndGlyphs">20</text>
<rect x="59.95" y="605.76" width="4.95" height="7.74" fill="#a8002d"/>
<line x1="62.5" y1="605.76" x2="62.5" y2="602.53" stroke="#1a1a1a" stroke-width="0.9" />
<line x1="61.13" y1="602.5" x2="63.73" y2="602.5" stroke="#1a1a1a" stroke-width="0.9" />
<circle cx="60.98" cy="608.82" r="1.15" fill="#000"/>
<circle cx="61.15" cy="608.02" r="1.15" fill="#000"/>
<circle cx="63.5" cy="607.76" r="1.15" fill="#000"/>
<circle cx="61.74" cy="607.02" r="1.15" fill="#000"/>
<circle cx="63.82" cy="606.33" r="1.15" fill="#000"/>
<circle cx="61.62" cy="605.24" r="1.15" fill="#000"/>
<circle cx="61.68" cy="604.84" r="1.15" fill="#000"/>
<circle cx="62.46" cy="604.32" r="1.15" fill="#000"/>
<circle cx="61.43" cy="603.6" r="1.15" fill="#000"/>
<circle cx="62.02" cy="603.03" r="1.15" fill="#000"/>
<rect x="66.9" y="605.12" width="4.95" height="8.38" fill="#2c4a84"/>
<line x1="69.5" y1="605.12" x2="69.5" y2="601.89" stroke="#1a1a1a" stroke-width="0.9" />
<line x1="68.08" y1="601.5" x2="70.67" y2="601.5" stroke="#1a1a1a" stroke-width="0.9" />
<circle cx="69.22" cy="608.01" r="1.1" fill="#444" stroke="#111" stroke-width="0.75"/>
<circle cx="70.18" cy="607.39" r="1.1" fill="#444" stroke="#111" stroke-width="0.75"/>
<circle cx="69.84" cy="606.76" r="1.1" fill="#444" stroke="#111" stroke-width="0.75"/>
<circle cx="68.69" cy="606.2" r="1.1" fill="#444" stroke="#111" stroke-width="0.75"/>
<circle cx="67.93" cy="605.33" r="1.1" fill="#444" stroke="#111" stroke-width="0.75"/>
<circle cx="70.74" cy="604.64" r="1.1" fill="#444" stroke="#111" stroke-width="0.75"/>
<circle cx="68.18" cy="604.23" r="1.1" fill="#444" stroke="#111" stroke-width="0.75"/>
<circle cx="69.29" cy="603.43" r="1.1" fill="#444" stroke="#111" stroke-width="0.75"/>
<circle cx="68.87" cy="603.21" r="1.1" fill="#444" stroke="#111" stroke-width="0.75"/>
<circle cx="68.73" cy="602.07" r="1.1" fill="#444" stroke="#111" stroke-width="0.75"/>
<circle cx="70.14" cy="598.02" r="1.1" fill="#444" stroke="#111" stroke-width="0.75"/>
<rect x="78.99" y="608.99" width="4.95" height="4.51" fill="#a8002d"/>
<line x1="81.5" y1="608.99" x2="81.5" y2="603.83" stroke="#1a1a1a" stroke-width="0.9" />
<line x1="80.17" y1="603.5" x2="82.77" y2="603.5" stroke="#1a1a1a" stroke-width="0.9" />
<circle cx="81.46" cy="612.32" r="1.15" fill="#000"/>
<circle cx="80.57" cy="612.06" r="1.15" fill="#000"/>
<circle cx="82.77" cy="610.74" r="1.15" fill="#000"/>
<circle cx="83.05" cy="610.13" r="1.15" fill="#000"/>
<circle cx="81.3" cy="608.95" r="1.15" fill="#000"/>
<circle cx="80.31" cy="608.16" r="1.15" fill="#000"/>
<circle cx="80.48" cy="607.43" r="1.15" fill="#000"/>
<circle cx="80.16" cy="606.5" r="1.15" fill="#000"/>
<circle cx="80.96" cy="605.51" r="1.15" fill="#000"/>
<circle cx="80.16" cy="603.91" r="1.15" fill="#000"/>
<circle cx="80.63" cy="598.66" r="1.15" fill="#000"/>
<rect x="85.94" y="607.7" width="4.95" height="5.8" fill="#2c4a84"/>
<line x1="88.5" y1="607.7" x2="88.5" y2="603.18" stroke="#1a1a1a" stroke-width="0.9" />
<line x1="87.11" y1="603.5" x2="89.71" y2="603.5" stroke="#1a1a1a" stroke-width="0.9" />
<circle cx="87.7" cy="612.42" r="1.1" fill="#444" stroke="#111" stroke-width="0.75"/>
<circle cx="89.91" cy="611.17" r="1.1" fill="#444" stroke="#111" stroke-width="0.75"/>
<circle cx="87.22" cy="609.92" r="1.1" fill="#444" stroke="#111" stroke-width="0.75"/>
<circle cx="88.43" cy="609.11" r="1.1" fill="#444" stroke="#111" stroke-width="0.75"/>
<circle cx="88.83" cy="608.48" r="1.1" fill="#444" stroke="#111" stroke-width="0.75"/>
<circle cx="89.58" cy="607.53" r="1.1" fill="#444" stroke="#111" stroke-width="0.75"/>
<circle cx="87.51" cy="606.48" r="1.1" fill="#444" stroke="#111" stroke-width="0.75"/>
<circle cx="87.68" cy="605.67" r="1.1" fill="#444" stroke="#111" stroke-width="0.75"/>
<circle cx="87.61" cy="604.76" r="1.1" fill="#444" stroke="#111" stroke-width="0.75"/>
<circle cx="88.09" cy="604.07" r="1.1" fill="#444" stroke="#111" stroke-width="0.75"/>
<circle cx="88.24" cy="597.38" r="1.1" fill="#444" stroke="#111" stroke-width="0.75"/>
<rect x="98.03" y="608.34" width="4.95" height="5.16" fill="#a8002d"/>
<line x1="100.5" y1="608.34" x2="100.5" y2="599.96" stroke="#1a1a1a" stroke-width="0.9" />
<line x1="99.2" y1="599.5" x2="101.8" y2="599.5" stroke="#1a1a1a" stroke-width="0.9" />
<circle cx="100.16" cy="611.97" r="1.15" fill="#000"/>
<circle cx="101.87" cy="610.79" r="1.15" fill="#000"/>
<circle cx="101.55" cy="609.42" r="1.15" fill="#000"/>
<circle cx="101.64" cy="609.23" r="1.15" fill="#000"/>
<circle cx="102.02" cy="607.88" r="1.15" fill="#000"/>
<circle cx="99.7" cy="605.66" r="1.15" fill="#000"/>
<circle cx="99.25" cy="604.08" r="1.15" fill="#000"/>
<circle cx="99.4" cy="603.31" r="1.15" fill="#000"/>
<circle cx="100.58" cy="601.83" r="1.15" fill="#000"/>
<circle cx="101.09" cy="601.28" r="1.15" fill="#000"/>
<circle cx="101.92" cy="594.15" r="1.15" fill="#000"/>
<circle cx="101.21" cy="589.63" r="1.15" fill="#000"/>
<rect x="104.98" y="607.7" width="4.95" height="5.8" fill="#2c4a84"/>
<line x1="107.5" y1="607.7" x2="107.5" y2="603.18" stroke="#1a1a1a" stroke-width="0.9" />
<line x1="106.16" y1="603.5" x2="108.76" y2="603.5" stroke="#1a1a1a" stroke-width="0.9" />
<circle cx="106.26" cy="612.05" r="1.1" fill="#444" stroke="#111" stroke-width="0.75"/>
<circle cx="106.66" cy="610.99" r="1.1" fill="#444" stroke="#111" stroke-width="0.75"/>
<circle cx="107.89" cy="610.33" r="1.1" fill="#444" stroke="#111" stroke-width="0.75"/>
<circle cx="108.09" cy="609.29" r="1.1" fill="#444" stroke="#111" stroke-width="0.75"/>
<circle cx="106.21" cy="608.83" r="1.1" fill="#444" stroke="#111" stroke-width="0.75"/>
<circle cx="106.08" cy="607.18" r="1.1" fill="#444" stroke="#111" stroke-width="0.75"/>
<circle cx="107.53" cy="606.75" r="1.1" fill="#444" stroke="#111" stroke-width="0.75"/>
<circle cx="107.72" cy="605.15" r="1.1" fill="#444" stroke="#111" stroke-width="0.75"/>
<circle cx="107.1" cy="604.46" r="1.1" fill="#444" stroke="#111" stroke-width="0.75"/>
<circle cx="106.57" cy="603.84" r="1.1" fill="#444" stroke="#111" stroke-width="0.75"/>
<circle cx="107.78" cy="592.86" r="1.1" fill="#444" stroke="#111" stroke-width="0.75"/>
<rect x="117.07" y="608.34" width="4.95" height="5.16" fill="#a8002d"/>
<line x1="119.5" y1="608.34" x2="119.5" y2="599.31" stroke="#1a1a1a" stroke-width="0.9" />
<line x1="118.25" y1="599.5" x2="120.85" y2="599.5" stroke="#1a1a1a" stroke-width="0.9" />
<circle cx="120.2" cy="613.23" r="1.15" fill="#000"/>
<circle cx="118.93" cy="611.43" r="1.15" fill="#000"/>
<circle cx="118.01" cy="609.81" r="1.15" fill="#000"/>
<circle cx="119.54" cy="607.73" r="1.15" fill="#000"/>
<circle cx="120.1" cy="606.77" r="1.15" fill="#000"/>
<circle cx="119.29" cy="605.04" r="1.15" fill="#000"/>
<circle cx="118.77" cy="604.22" r="1.15" fill="#000"/>
<circle cx="120.08" cy="603.16" r="1.15" fill="#000"/>
<circle cx="120.91" cy="601.75" r="1.15" fill="#000"/>
<circle cx="118.67" cy="599.36" r="1.15" fill="#000"/>
<circle cx="118.05" cy="594.79" r="1.15" fill="#000"/>
<circle cx="119.03" cy="587.05" r="1.15" fill="#000"/>
<rect x="124.02" y="608.34" width="4.95" height="5.16" fill="#2c4a84"/>
<line x1="126.5" y1="608.34" x2="126.5" y2="601.89" stroke="#1a1a1a" stroke-width="0.9" />
<line x1="125.2" y1="601.5" x2="127.8" y2="601.5" stroke="#1a1a1a" stroke-width="0.9" />
<circle cx="125.63" cy="612.76" r="1.1" fill="#444" stroke="#111" stroke-width="0.75"/>
<circle cx="125.6" cy="611.33" r="1.1" fill="#444" stroke="#111" stroke-width="0.75"/>
<circle cx="127.33" cy="610.75" r="1.1" fill="#444" stroke="#111" stroke-width="0.75"/>
<circle cx="125.84" cy="608.93" r="1.1" fill="#444" stroke="#111" stroke-width="0.75"/>
<circle cx="127.94" cy="607.86" r="1.1" fill="#444" stroke="#111" stroke-width="0.75"/>
<circle cx="126.48" cy="606.99" r="1.1" fill="#444" stroke="#111" stroke-width="0.75"/>
<circle cx="125.49" cy="606.2" r="1.1" fill="#444" stroke="#111" stroke-width="0.75"/>
<circle cx="125.61" cy="604.19" r="1.1" fill="#444" stroke="#111" stroke-width="0.75"/>
<circle cx="126.23" cy="603.81" r="1.1" fill="#444" stroke="#111" stroke-width="0.75"/>
<circle cx="127.02" cy="602.09" r="1.1" fill="#444" stroke="#111" stroke-width="0.75"/>
<circle cx="127.93" cy="591.57" r="1.1" fill="#444" stroke="#111" stroke-width="0.75"/>
<rect x="136.11" y="608.34" width="4.95" height="5.16" fill="#a8002d"/>
<line x1="138.5" y1="608.34" x2="138.5" y2="597.38" stroke="#1a1a1a" stroke-width="0.9" />
<line x1="137.28" y1="597.5" x2="139.89" y2="597.5" stroke="#1a1a1a" stroke-width="0.9" />
<circle cx="139.33" cy="613.01" r="1.15" fill="#000"/>
<circle cx="140.18" cy="611.03" r="1.15" fill="#000"/>
<circle cx="139.97" cy="609.73" r="1.15" fill="#000"/>
<circle cx="138.04" cy="606.94" r="1.15" fill="#000"/>
<circle cx="137.58" cy="606.67" r="1.15" fill="#000"/>
<circle cx="139.98" cy="605.23" r="1.15" fill="#000"/>
<circle cx="139.37" cy="603.63" r="1.15" fill="#000"/>
<circle cx="137.09" cy="601.51" r="1.15" fill="#000"/>
<circle cx="139.11" cy="599.12" r="1.15" fill="#000"/>
<circle cx="138.2" cy="597.56" r="1.15" fill="#000"/>
<circle cx="138.18" cy="593.5" r="1.15" fill="#000"/>
<circle cx="138.05" cy="580.61" r="1.15" fill="#000"/>
<rect x="143.06" y="608.34" width="4.95" height="5.16" fill="#2c4a84"/>
<line x1="145.5" y1="608.34" x2="145.5" y2="601.25" stroke="#1a1a1a" stroke-width="0.9" />
<line x1="144.23" y1="601.5" x2="146.84" y2="601.5" stroke="#1a1a1a" stroke-width="0.9" />
<circle cx="146.57" cy="613.04" r="1.1" fill="#444" stroke="#111" stroke-width="0.75"/>
<circle cx="145.32" cy="612.04" r="1.1" fill="#444" stroke="#111" stroke-width="0.75"/>
<circle cx="144.09" cy="610.51" r="1.1" fill="#444" stroke="#111" stroke-width="0.75"/>
<circle cx="145.45" cy="609.22" r="1.1" fill="#444" stroke="#111" stroke-width="0.75"/>
<circle cx="145.13" cy="607.3" r="1.1" fill="#444" stroke="#111" stroke-width="0.75"/>
<circle cx="146.88" cy="607.1" r="1.1" fill="#444" stroke="#111" stroke-width="0.75"/>
<circle cx="144.55" cy="604.89" r="1.1" fill="#444" stroke="#111" stroke-width="0.75"/>
<circle cx="145.1" cy="604.6" r="1.1" fill="#444" stroke="#111" stroke-width="0.75"/>
<circle cx="146.81" cy="603.22" r="1.1" fill="#444" stroke="#111" stroke-width="0.75"/>
<circle cx="144.03" cy="601.46" r="1.1" fill="#444" stroke="#111" stroke-width="0.75"/>
<circle cx="145.25" cy="599.31" r="1.1" fill="#444" stroke="#111" stroke-width="0.75"/>
<circle cx="146.53" cy="589.63" r="1.1" fill="#444" stroke="#111" stroke-width="0.75"/>
<text x="63.7" y="639.5" font-size="10" font-weight="bold" textLength="80" lengthAdjust="spacingAndGlyphs">Weeks post-transplantation</text>
<line x1="181.5" y1="548.5" x2="181.5" y2="614" stroke="#1a1a1a" stroke-width="1" />
<line x1="178" y1="613.5" x2="181.5" y2="613.5" stroke="#1a1a1a" stroke-width="1" />
<text x="174.9" y="616.4" font-size="8.6" text-anchor="end" stroke="#000" stroke-width="0.18" textLength="4.55" lengthAdjust="spacingAndGlyphs">0</text>
<line x1="178" y1="582.5" x2="181.5" y2="582.5" stroke="#1a1a1a" stroke-width="1" />
<text x="174.9" y="585.25" font-size="8.6" text-anchor="end" stroke="#000" stroke-width="0.18" textLength="9.1" lengthAdjust="spacingAndGlyphs">50</text>
<line x1="178" y1="551.5" x2="181.5" y2="551.5" stroke="#1a1a1a" stroke-width="1" />
<text x="174.9" y="554.1" font-size="8.6" text-anchor="end" stroke="#000" stroke-width="0.18" textLength="13.65" lengthAdjust="spacingAndGlyphs">100</text>
<line x1="181" y1="613.5" x2="243.8" y2="613.5" stroke="#1a1a1a" stroke-width="1" />
<line x1="191.5" y1="613.5" x2="191.5" y2="616.3" stroke="#1a1a1a" stroke-width="1" />
<line x1="212.5" y1="613.5" x2="212.5" y2="616.3" stroke="#1a1a1a" stroke-width="1" />
<line x1="234.5" y1="613.5" x2="234.5" y2="616.3" stroke="#1a1a1a" stroke-width="1" />
<circle cx="184.8" cy="613" r="1.25" fill="#a8002d"/>
<circle cx="185.68" cy="613" r="1.25" fill="#a8002d"/>
<circle cx="186.56" cy="613" r="1.25" fill="#a8002d"/>
<circle cx="187.44" cy="613" r="1.25" fill="#a8002d"/>
<circle cx="188.32" cy="613" r="1.25" fill="#a8002d"/>
<circle cx="189.2" cy="613" r="1.25" fill="#a8002d"/>
<line x1="184.3" y1="613.5" x2="189.7" y2="613.5" stroke="#1a1a1a" stroke-width="1.2" />
<circle cx="196.19" cy="612.88" r="1.2" fill="#7f9cca"/>
<circle cx="196.19" cy="612.88" r="0.5" fill="#3f5f9a"/>
<circle cx="196.68" cy="612.25" r="1.2" fill="#7f9cca"/>
<circle cx="196.68" cy="612.25" r="0.5" fill="#3f5f9a"/>
<circle cx="194.67" cy="613" r="1.15" fill="#4768a6"/>
<circle cx="194.67" cy="612.57" r="1.2" fill="#7f9cca"/>
<circle cx="194.67" cy="612.57" r="0.5" fill="#3f5f9a"/>
<circle cx="196.13" cy="613" r="1.15" fill="#4768a6"/>
<circle cx="195.77" cy="612.25" r="1.2" fill="#7f9cca"/>
<circle cx="195.77" cy="612.25" r="0.5" fill="#3f5f9a"/>
<circle cx="194.64" cy="612.88" r="1.2" fill="#7f9cca"/>
<circle cx="194.64" cy="612.88" r="0.5" fill="#3f5f9a"/>
<line x1="192.7" y1="612.5" x2="198.1" y2="612.5" stroke="#1a1a1a" stroke-width="1.2" />
<circle cx="209.19" cy="611.63" r="1.25" fill="#a8002d"/>
<circle cx="207.91" cy="612.25" r="1.25" fill="#a8002d"/>
<circle cx="207.78" cy="612.88" r="1.25" fill="#a8002d"/>
<circle cx="206.91" cy="611.94" r="1.25" fill="#a8002d"/>
<circle cx="209.32" cy="612.88" r="1.25" fill="#a8002d"/>
<circle cx="209.83" cy="611.63" r="1.25" fill="#a8002d"/>
<line x1="205.8" y1="612.5" x2="211.2" y2="612.5" stroke="#1a1a1a" stroke-width="1.2" />
<circle cx="217.33" cy="605.4" r="1.2" fill="#7f9cca"/>
<circle cx="217.33" cy="605.4" r="0.5" fill="#3f5f9a"/>
<circle cx="218.32" cy="607.89" r="1.2" fill="#7f9cca"/>
<circle cx="218.32" cy="607.89" r="0.5" fill="#3f5f9a"/>
<circle cx="215.38" cy="609.76" r="1.2" fill="#7f9cca"/>
<circle cx="215.38" cy="609.76" r="0.5" fill="#3f5f9a"/>
<circle cx="216.05" cy="610.38" r="1.2" fill="#7f9cca"/>
<circle cx="216.05" cy="610.38" r="0.5" fill="#3f5f9a"/>
<circle cx="216.82" cy="611.63" r="1.2" fill="#7f9cca"/>
<circle cx="216.82" cy="611.63" r="0.5" fill="#3f5f9a"/>
<circle cx="218.36" cy="612.25" r="1.2" fill="#7f9cca"/>
<circle cx="218.36" cy="612.25" r="0.5" fill="#3f5f9a"/>
<circle cx="218.35" cy="612.88" r="1.2" fill="#7f9cca"/>
<circle cx="218.35" cy="612.88" r="0.5" fill="#3f5f9a"/>
<circle cx="219.1" cy="613" r="1.15" fill="#4768a6"/>
<line x1="214.2" y1="610.5" x2="219.6" y2="610.5" stroke="#1a1a1a" stroke-width="1.2" />
<circle cx="229.2" cy="606.02" r="1.25" fill="#a8002d"/>
<circle cx="229.78" cy="607.89" r="1.25" fill="#a8002d"/>
<circle cx="229.98" cy="609.14" r="1.25" fill="#a8002d"/>
<circle cx="231.37" cy="610.38" r="1.25" fill="#a8002d"/>
<circle cx="228.99" cy="611.63" r="1.25" fill="#a8002d"/>
<circle cx="230.97" cy="612.25" r="1.25" fill="#a8002d"/>
<circle cx="230.76" cy="612.88" r="1.25" fill="#a8002d"/>
<circle cx="231.65" cy="613" r="1.25" fill="#a8002d"/>
<circle cx="230.87" cy="611.01" r="1.25" fill="#a8002d"/>
<line x1="230.5" y1="609.14" x2="230.5" y2="613.5" stroke="#1a1a1a" stroke-width="0.9" />
<line x1="228.6" y1="609.5" x2="231.4" y2="609.5" stroke="#1a1a1a" stroke-width="0.9" />
<line x1="227.3" y1="611.5" x2="232.7" y2="611.5" stroke="#1a1a1a" stroke-width="1.2" />
<circle cx="238.74" cy="589.83" r="1.2" fill="#7f9cca"/>
<circle cx="238.74" cy="589.83" r="0.5" fill="#3f5f9a"/>
<circle cx="237.85" cy="591.7" r="1.2" fill="#7f9cca"/>
<circle cx="237.85" cy="591.7" r="0.5" fill="#3f5f9a"/>
<circle cx="237.82" cy="596.06" r="1.2" fill="#7f9cca"/>
<circle cx="237.82" cy="596.06" r="0.5" fill="#3f5f9a"/>
<circle cx="237.96" cy="604.15" r="1.2" fill="#7f9cca"/>
<circle cx="237.96" cy="604.15" r="0.5" fill="#3f5f9a"/>
<circle cx="239.3" cy="606.02" r="1.2" fill="#7f9cca"/>
<circle cx="239.3" cy="606.02" r="0.5" fill="#3f5f9a"/>
<circle cx="237.05" cy="607.27" r="1.2" fill="#7f9cca"/>
<circle cx="237.05" cy="607.27" r="0.5" fill="#3f5f9a"/>
<circle cx="237.43" cy="610.38" r="1.2" fill="#7f9cca"/>
<circle cx="237.43" cy="610.38" r="0.5" fill="#3f5f9a"/>
<circle cx="239.21" cy="612.25" r="1.2" fill="#7f9cca"/>
<circle cx="239.21" cy="612.25" r="0.5" fill="#3f5f9a"/>
<line x1="238.5" y1="596.68" x2="238.5" y2="613.5" stroke="#1a1a1a" stroke-width="0.9" />
<line x1="237" y1="596.5" x2="239.8" y2="596.5" stroke="#1a1a1a" stroke-width="0.9" />
<line x1="235.7" y1="605.5" x2="241.1" y2="605.5" stroke="#1a1a1a" stroke-width="1.2" />
<path d="M230.5 604.4 V584.5 H238.5 V586" fill="none" stroke="#1a1a1a" stroke-width="0.9"/>
<text x="234.55" y="584.8" font-size="6.4" text-anchor="middle" stroke="#000" stroke-width="0.18">*</text>
<text x="0" y="0" font-size="8.3" text-anchor="end" stroke="#000" stroke-width="0.18" transform="translate(193.7 623.5) rotate(-45)">HSC<tspan font-size="6" dy="-3.2" stroke-width="0.06">CD49b−</tspan></text>
<text x="0" y="0" font-size="8.3" text-anchor="end" stroke="#000" stroke-width="0.18" transform="translate(215.2 623.5) rotate(-45)">HSC<tspan font-size="6" dy="-3.2" stroke-width="0.06">CD49b+</tspan></text>
<text x="0" y="0" font-size="8.3" text-anchor="end" stroke="#000" stroke-width="0.18" transform="translate(236.7 623.5) rotate(-45)">MPP1</text>
<text x="352.5" y="254.5" font-size="7" stroke="#000" stroke-width="0.18" textLength="63.7" lengthAdjust="spacingAndGlyphs">2<tspan font-size="5" dy="-2.8" stroke-width="0.06">nd</tspan><tspan dy="2.8"> transplantation</tspan></text>
<line x1="308.7" y1="259.5" x2="460" y2="259.5" stroke="#1a1a1a" stroke-width="1" />
<text x="308.7" y="274.2" font-size="8.2" stroke="#000" stroke-width="0.18" textLength="56.5" lengthAdjust="spacingAndGlyphs">Peripheral blood</text>
<text x="445" y="269" font-size="8.3" text-anchor="middle" stroke="#000" stroke-width="0.18">BM</text>
<text x="430" y="278.8" font-size="8.3" stroke="#000" stroke-width="0.18" textLength="30" lengthAdjust="spacingAndGlyphs">(20 wks)</text>
<rect x="295" y="283.8" width="4.5" height="4.5" fill="#a8002d"/>
<rect x="295" y="292.6" width="4.5" height="4.5" fill="#2c4a84"/>
<text x="303" y="288.3" font-size="8.5" font-style="italic" stroke="#000" stroke-width="0.18">Ctrl</text>
<text x="302.8" y="297.1" font-size="8.5" font-style="italic" stroke="#000" stroke-width="0.18">db</text>
<text x="0" y="0" font-size="10.2" text-anchor="middle" font-weight="bold" textLength="46.2" lengthAdjust="spacingAndGlyphs" transform="translate(267.8 320.5) rotate(-90)">Donor cells (%)</text>
<line x1="289.5" y1="287.6" x2="289.5" y2="355" stroke="#1a1a1a" stroke-width="1" />
<line x1="285.5" y1="354.5" x2="289" y2="354.5" stroke="#1a1a1a" stroke-width="1" />
<text x="283.2" y="357.4" font-size="8.6" text-anchor="end" stroke="#000" stroke-width="0.18" textLength="4.55" lengthAdjust="spacingAndGlyphs">0</text>
<line x1="285.5" y1="333.5" x2="289" y2="333.5" stroke="#1a1a1a" stroke-width="1" />
<text x="283.2" y="336" font-size="8.6" text-anchor="end" stroke="#000" stroke-width="0.18" textLength="9.1" lengthAdjust="spacingAndGlyphs">20</text>
<line x1="285.5" y1="311.5" x2="289" y2="311.5" stroke="#1a1a1a" stroke-width="1" />
<text x="283.2" y="314.6" font-size="8.6" text-anchor="end" stroke="#000" stroke-width="0.18" textLength="9.1" lengthAdjust="spacingAndGlyphs">40</text>
<line x1="285.5" y1="290.5" x2="289" y2="290.5" stroke="#1a1a1a" stroke-width="1" />
<text x="283.2" y="293.2" font-size="8.6" text-anchor="end" stroke="#000" stroke-width="0.18" textLength="9.1" lengthAdjust="spacingAndGlyphs">60</text>
<line x1="288.5" y1="354.5" x2="382" y2="354.5" stroke="#1a1a1a" stroke-width="1" />
<line x1="297.5" y1="354.5" x2="297.5" y2="357.3" stroke="#1a1a1a" stroke-width="1" />
<text x="297.4" y="367.8" font-size="8.8" text-anchor="middle" stroke="#000" stroke-width="0.18" textLength="4.6" lengthAdjust="spacingAndGlyphs">4</text>
<line x1="316.5" y1="354.5" x2="316.5" y2="357.3" stroke="#1a1a1a" stroke-width="1" />
<text x="316.6" y="367.8" font-size="8.8" text-anchor="middle" stroke="#000" stroke-width="0.18" textLength="4.6" lengthAdjust="spacingAndGlyphs">8</text>
<line x1="335.5" y1="354.5" x2="335.5" y2="357.3" stroke="#1a1a1a" stroke-width="1" />
<text x="335.8" y="367.8" font-size="8.8" text-anchor="middle" stroke="#000" stroke-width="0.18" textLength="9.2" lengthAdjust="spacingAndGlyphs">12</text>
<line x1="355.5" y1="354.5" x2="355.5" y2="357.3" stroke="#1a1a1a" stroke-width="1" />
<text x="355" y="367.8" font-size="8.8" text-anchor="middle" stroke="#000" stroke-width="0.18" textLength="9.2" lengthAdjust="spacingAndGlyphs">16</text>
<line x1="374.5" y1="354.5" x2="374.5" y2="357.3" stroke="#1a1a1a" stroke-width="1" />
<text x="374.2" y="367.8" font-size="8.8" text-anchor="middle" stroke="#000" stroke-width="0.18" textLength="9.2" lengthAdjust="spacingAndGlyphs">20</text>
<rect x="291.45" y="324.54" width="4.95" height="29.96" fill="#a8002d"/>
<line x1="293.5" y1="324.54" x2="293.5" y2="318.12" stroke="#1a1a1a" stroke-width="0.9" />
<line x1="292.62" y1="318.5" x2="295.22" y2="318.5" stroke="#1a1a1a" stroke-width="0.9" />
<circle cx="292.63" cy="331.27" r="1.15" fill="#000"/>
<circle cx="293.92" cy="330.17" r="1.15" fill="#000"/>
<circle cx="294.6" cy="328.86" r="1.15" fill="#000"/>
<circle cx="293.76" cy="326.81" r="1.15" fill="#000"/>
<circle cx="293.07" cy="325.77" r="1.15" fill="#000"/>
<circle cx="293.66" cy="323.54" r="1.15" fill="#000"/>
<circle cx="294.31" cy="322.32" r="1.15" fill="#000"/>
<circle cx="294.48" cy="320.83" r="1.15" fill="#000"/>
<circle cx="294.72" cy="320.46" r="1.15" fill="#000"/>
<circle cx="295.04" cy="319.35" r="1.15" fill="#000"/>
<circle cx="294.45" cy="309.56" r="1.15" fill="#000"/>
<rect x="298.4" y="320.26" width="4.95" height="34.24" fill="#2c4a84"/>
<line x1="300.5" y1="320.26" x2="300.5" y2="314.91" stroke="#1a1a1a" stroke-width="0.9" />
<line x1="299.57" y1="314.5" x2="302.18" y2="314.5" stroke="#1a1a1a" stroke-width="0.9" />
<circle cx="302.1" cy="326.01" r="1.1" fill="#444" stroke="#111" stroke-width="0.75"/>
<circle cx="301.13" cy="324.08" r="1.1" fill="#444" stroke="#111" stroke-width="0.75"/>
<circle cx="300.32" cy="323.57" r="1.1" fill="#444" stroke="#111" stroke-width="0.75"/>
<circle cx="300.54" cy="322.14" r="1.1" fill="#444" stroke="#111" stroke-width="0.75"/>
<circle cx="302.45" cy="321.23" r="1.1" fill="#444" stroke="#111" stroke-width="0.75"/>
<circle cx="300.9" cy="319.7" r="1.1" fill="#444" stroke="#111" stroke-width="0.75"/>
<circle cx="300.02" cy="319.18" r="1.1" fill="#444" stroke="#111" stroke-width="0.75"/>
<circle cx="301.86" cy="318" r="1.1" fill="#444" stroke="#111" stroke-width="0.75"/>
<circle cx="301.37" cy="316.88" r="1.1" fill="#444" stroke="#111" stroke-width="0.75"/>
<circle cx="302.45" cy="315.86" r="1.1" fill="#444" stroke="#111" stroke-width="0.75"/>
<circle cx="299.6" cy="304.21" r="1.1" fill="#444" stroke="#111" stroke-width="0.75"/>
<rect x="310.65" y="329.46" width="4.95" height="25.04" fill="#a8002d"/>
<line x1="313.5" y1="329.46" x2="313.5" y2="323.47" stroke="#1a1a1a" stroke-width="0.9" />
<line x1="311.82" y1="323.5" x2="314.43" y2="323.5" stroke="#1a1a1a" stroke-width="0.9" />
<circle cx="314.5" cy="335.46" r="1.15" fill="#000"/>
<circle cx="312.72" cy="333.76" r="1.15" fill="#000"/>
<circle cx="314.3" cy="332.48" r="1.15" fill="#000"/>
<circle cx="312.96" cy="331.13" r="1.15" fill="#000"/>
<circle cx="312.36" cy="330.97" r="1.15" fill="#000"/>
<circle cx="314.01" cy="329.39" r="1.15" fill="#000"/>
<circle cx="314.55" cy="328.35" r="1.15" fill="#000"/>
<circle cx="311.86" cy="327.01" r="1.15" fill="#000"/>
<circle cx="313.43" cy="324.76" r="1.15" fill="#000"/>
<circle cx="313.51" cy="323.99" r="1.15" fill="#000"/>
<circle cx="312.22" cy="318.12" r="1.15" fill="#000"/>
<rect x="317.6" y="331.39" width="4.95" height="23.11" fill="#2c4a84"/>
<line x1="320.5" y1="331.39" x2="320.5" y2="325.61" stroke="#1a1a1a" stroke-width="0.9" />
<line x1="318.77" y1="325.5" x2="321.37" y2="325.5" stroke="#1a1a1a" stroke-width="0.9" />
<circle cx="319.07" cy="337.3" r="1.1" fill="#444" stroke="#111" stroke-width="0.75"/>
<circle cx="319.47" cy="336.36" r="1.1" fill="#444" stroke="#111" stroke-width="0.75"/>
<circle cx="319.13" cy="335.07" r="1.1" fill="#444" stroke="#111" stroke-width="0.75"/>
<circle cx="321.02" cy="333.79" r="1.1" fill="#444" stroke="#111" stroke-width="0.75"/>
<circle cx="320.23" cy="332.16" r="1.1" fill="#444" stroke="#111" stroke-width="0.75"/>
<circle cx="318.68" cy="330.89" r="1.1" fill="#444" stroke="#111" stroke-width="0.75"/>
<circle cx="318.8" cy="330.22" r="1.1" fill="#444" stroke="#111" stroke-width="0.75"/>
<circle cx="319.74" cy="329.24" r="1.1" fill="#444" stroke="#111" stroke-width="0.75"/>
<circle cx="320.24" cy="327.64" r="1.1" fill="#444" stroke="#111" stroke-width="0.75"/>
<circle cx="320.52" cy="326" r="1.1" fill="#444" stroke="#111" stroke-width="0.75"/>
<circle cx="318.77" cy="321.33" r="1.1" fill="#444" stroke="#111" stroke-width="0.75"/>
<rect x="329.85" y="328.39" width="4.95" height="26.11" fill="#a8002d"/>
<line x1="332.5" y1="328.39" x2="332.5" y2="321.33" stroke="#1a1a1a" stroke-width="0.9" />
<line x1="331.02" y1="321.5" x2="333.62" y2="321.5" stroke="#1a1a1a" stroke-width="0.9" />
<circle cx="333.49" cy="335.92" r="1.15" fill="#000"/>
<circle cx="333.91" cy="333.65" r="1.15" fill="#000"/>
<circle cx="331.89" cy="332.59" r="1.15" fill="#000"/>
<circle cx="331.36" cy="331.29" r="1.15" fill="#000"/>
<circle cx="333.05" cy="329.77" r="1.15" fill="#000"/>
<circle cx="331.38" cy="327.33" r="1.15" fill="#000"/>
<circle cx="330.74" cy="326.8" r="1.15" fill="#000"/>
<circle cx="333.61" cy="324.94" r="1.15" fill="#000"/>
<circle cx="332.08" cy="323.77" r="1.15" fill="#000"/>
<circle cx="333.35" cy="322.2" r="1.15" fill="#000"/>
<circle cx="332.02" cy="311.7" r="1.15" fill="#000"/>
<rect x="336.8" y="334.17" width="4.95" height="20.33" fill="#2c4a84"/>
<line x1="339.5" y1="334.17" x2="339.5" y2="328.82" stroke="#1a1a1a" stroke-width="0.9" />
<line x1="337.97" y1="328.5" x2="340.57" y2="328.5" stroke="#1a1a1a" stroke-width="0.9" />
<circle cx="339.29" cy="339.06" r="1.1" fill="#444" stroke="#111" stroke-width="0.75"/>
<circle cx="338.14" cy="338.41" r="1.1" fill="#444" stroke="#111" stroke-width="0.75"/>
<circle cx="338.58" cy="337.63" r="1.1" fill="#444" stroke="#111" stroke-width="0.75"/>
<circle cx="339.34" cy="336.67" r="1.1" fill="#444" stroke="#111" stroke-width="0.75"/>
<circle cx="340.64" cy="334.94" r="1.1" fill="#444" stroke="#111" stroke-width="0.75"/>
<circle cx="338.02" cy="333.72" r="1.1" fill="#444" stroke="#111" stroke-width="0.75"/>
<circle cx="339.24" cy="332.29" r="1.1" fill="#444" stroke="#111" stroke-width="0.75"/>
<circle cx="340.25" cy="332.09" r="1.1" fill="#444" stroke="#111" stroke-width="0.75"/>
<circle cx="340.77" cy="330.37" r="1.1" fill="#444" stroke="#111" stroke-width="0.75"/>
<circle cx="338.31" cy="329.53" r="1.1" fill="#444" stroke="#111" stroke-width="0.75"/>
<circle cx="338.08" cy="322.4" r="1.1" fill="#444" stroke="#111" stroke-width="0.75"/>
<rect x="349.05" y="326.68" width="4.95" height="27.82" fill="#a8002d"/>
<line x1="351.5" y1="326.68" x2="351.5" y2="317.05" stroke="#1a1a1a" stroke-width="0.9" />
<line x1="350.22" y1="317.5" x2="352.82" y2="317.5" stroke="#1a1a1a" stroke-width="0.9" />
<circle cx="352.44" cy="335.37" r="1.15" fill="#000"/>
<circle cx="350.64" cy="333.28" r="1.15" fill="#000"/>
<circle cx="351.22" cy="332.25" r="1.15" fill="#000"/>
<circle cx="352.63" cy="331.1" r="1.15" fill="#000"/>
<circle cx="352.58" cy="327.31" r="1.15" fill="#000"/>
<circle cx="350.51" cy="326.38" r="1.15" fill="#000"/>
<circle cx="350.62" cy="323.31" r="1.15" fill="#000"/>
<circle cx="351.2" cy="321.86" r="1.15" fill="#000"/>
<circle cx="351.58" cy="319.43" r="1.15" fill="#000"/>
<circle cx="351.15" cy="318.75" r="1.15" fill="#000"/>
<circle cx="350.32" cy="313.84" r="1.15" fill="#000"/>
<circle cx="350.72" cy="304.21" r="1.15" fill="#000"/>
<rect x="356" y="336.74" width="4.95" height="17.76" fill="#2c4a84"/>
<line x1="358.5" y1="336.74" x2="358.5" y2="330.96" stroke="#1a1a1a" stroke-width="0.9" />
<line x1="357.18" y1="330.5" x2="359.78" y2="330.5" stroke="#1a1a1a" stroke-width="0.9" />
<circle cx="358.88" cy="342.21" r="1.1" fill="#444" stroke="#111" stroke-width="0.75"/>
<circle cx="357.85" cy="340.79" r="1.1" fill="#444" stroke="#111" stroke-width="0.75"/>
<circle cx="358.22" cy="340.62" r="1.1" fill="#444" stroke="#111" stroke-width="0.75"/>
<circle cx="358.74" cy="338.77" r="1.1" fill="#444" stroke="#111" stroke-width="0.75"/>
<circle cx="358.24" cy="337.32" r="1.1" fill="#444" stroke="#111" stroke-width="0.75"/>
<circle cx="358.98" cy="336.98" r="1.1" fill="#444" stroke="#111" stroke-width="0.75"/>
<circle cx="358.3" cy="334.8" r="1.1" fill="#444" stroke="#111" stroke-width="0.75"/>
<circle cx="358.28" cy="334.46" r="1.1" fill="#444" stroke="#111" stroke-width="0.75"/>
<circle cx="356.95" cy="332.66" r="1.1" fill="#444" stroke="#111" stroke-width="0.75"/>
<circle cx="358.86" cy="331.51" r="1.1" fill="#444" stroke="#111" stroke-width="0.75"/>
<circle cx="358.44" cy="326.68" r="1.1" fill="#444" stroke="#111" stroke-width="0.75"/>
<rect x="368.25" y="326.68" width="4.95" height="27.82" fill="#a8002d"/>
<line x1="370.5" y1="326.68" x2="370.5" y2="315.98" stroke="#1a1a1a" stroke-width="0.9" />
<line x1="369.43" y1="315.5" x2="372.03" y2="315.5" stroke="#1a1a1a" stroke-width="0.9" />
<circle cx="370.54" cy="337.92" r="1.15" fill="#000"/>
<circle cx="370.76" cy="334.49" r="1.15" fill="#000"/>
<circle cx="369.26" cy="332.2" r="1.15" fill="#000"/>
<circle cx="371.16" cy="330.68" r="1.15" fill="#000"/>
<circle cx="369.39" cy="329.06" r="1.15" fill="#000"/>
<circle cx="371.47" cy="326.15" r="1.15" fill="#000"/>
<circle cx="371.61" cy="324.73" r="1.15" fill="#000"/>
<circle cx="370.76" cy="322.43" r="1.15" fill="#000"/>
<circle cx="369.3" cy="319.51" r="1.15" fill="#000"/>
<circle cx="370.74" cy="318.02" r="1.15" fill="#000"/>
<circle cx="370.33" cy="307.42" r="1.15" fill="#000"/>
<circle cx="372.17" cy="302.07" r="1.15" fill="#000"/>
<rect x="375.2" y="337.81" width="4.95" height="16.69" fill="#2c4a84"/>
<line x1="377.5" y1="337.81" x2="377.5" y2="333.1" stroke="#1a1a1a" stroke-width="0.9" />
<line x1="376.37" y1="333.5" x2="378.97" y2="333.5" stroke="#1a1a1a" stroke-width="0.9" />
<circle cx="376.6" cy="342.85" r="1.1" fill="#444" stroke="#111" stroke-width="0.75"/>
<circle cx="378.6" cy="341.15" r="1.1" fill="#444" stroke="#111" stroke-width="0.75"/>
<circle cx="379.05" cy="340.02" r="1.1" fill="#444" stroke="#111" stroke-width="0.75"/>
<circle cx="376.28" cy="339.3" r="1.1" fill="#444" stroke="#111" stroke-width="0.75"/>
<circle cx="377.2" cy="338.23" r="1.1" fill="#444" stroke="#111" stroke-width="0.75"/>
<circle cx="378.49" cy="337.85" r="1.1" fill="#444" stroke="#111" stroke-width="0.75"/>
<circle cx="376.58" cy="336.08" r="1.1" fill="#444" stroke="#111" stroke-width="0.75"/>
<circle cx="378.94" cy="335.58" r="1.1" fill="#444" stroke="#111" stroke-width="0.75"/>
<circle cx="376.95" cy="334.13" r="1.1" fill="#444" stroke="#111" stroke-width="0.75"/>
<circle cx="378.69" cy="333.18" r="1.1" fill="#444" stroke="#111" stroke-width="0.75"/>
<circle cx="376.53" cy="327.75" r="1.1" fill="#444" stroke="#111" stroke-width="0.75"/>
<path d="M349.5 297 V295.5 H358.5 V317" fill="none" stroke="#1a1a1a" stroke-width="0.9"/>
<text x="354.15" y="295.6" font-size="6.4" text-anchor="middle" stroke="#000" stroke-width="0.18">*</text>
<path d="M369.5 297 V295.5 H377.5 V326" fill="none" stroke="#1a1a1a" stroke-width="0.9"/>
<text x="373.65" y="295.6" font-size="6.4" text-anchor="middle" stroke="#000" stroke-width="0.18" letter-spacing="0.9">**</text>
<text x="295.7" y="380.5" font-size="10" font-weight="bold" textLength="80" lengthAdjust="spacingAndGlyphs">Weeks post-transplantation</text>
<line x1="413.5" y1="289.4" x2="413.5" y2="355" stroke="#1a1a1a" stroke-width="1" />
<line x1="409.5" y1="354.5" x2="413" y2="354.5" stroke="#1a1a1a" stroke-width="1" />
<text x="406.4" y="357.4" font-size="8.6" text-anchor="end" stroke="#000" stroke-width="0.18" textLength="4.55" lengthAdjust="spacingAndGlyphs">0</text>
<line x1="409.5" y1="323.5" x2="413" y2="323.5" stroke="#1a1a1a" stroke-width="1" />
<text x="406.4" y="326.2" font-size="8.6" text-anchor="end" stroke="#000" stroke-width="0.18" textLength="9.1" lengthAdjust="spacingAndGlyphs">50</text>
<line x1="409.5" y1="292.5" x2="413" y2="292.5" stroke="#1a1a1a" stroke-width="1" />
<text x="406.4" y="295" font-size="8.6" text-anchor="end" stroke="#000" stroke-width="0.18" textLength="13.65" lengthAdjust="spacingAndGlyphs">100</text>
<line x1="412.5" y1="354.5" x2="475.8" y2="354.5" stroke="#1a1a1a" stroke-width="1" />
<line x1="423.5" y1="354.5" x2="423.5" y2="357.3" stroke="#1a1a1a" stroke-width="1" />
<line x1="445.5" y1="354.5" x2="445.5" y2="357.3" stroke="#1a1a1a" stroke-width="1" />
<line x1="466.5" y1="354.5" x2="466.5" y2="357.3" stroke="#1a1a1a" stroke-width="1" />
<circle cx="419.11" cy="312.69" r="1.25" fill="#a8002d"/>
<circle cx="420.44" cy="323.92" r="1.25" fill="#a8002d"/>
<circle cx="418.17" cy="328.29" r="1.25" fill="#a8002d"/>
<circle cx="418.34" cy="335.78" r="1.25" fill="#a8002d"/>
<circle cx="419.12" cy="338.9" r="1.25" fill="#a8002d"/>
<circle cx="418.52" cy="345.14" r="1.25" fill="#a8002d"/>
<circle cx="417.62" cy="348.26" r="1.25" fill="#a8002d"/>
<circle cx="418.08" cy="351.38" r="1.25" fill="#a8002d"/>
<circle cx="421.3" cy="354" r="1.25" fill="#a8002d"/>
<line x1="419.5" y1="323.92" x2="419.5" y2="348.26" stroke="#1a1a1a" stroke-width="0.9" />
<line x1="417.7" y1="323.5" x2="420.5" y2="323.5" stroke="#1a1a1a" stroke-width="0.9" />
<line x1="417.7" y1="348.5" x2="420.5" y2="348.5" stroke="#1a1a1a" stroke-width="0.9" />
<line x1="416.4" y1="337.5" x2="421.8" y2="337.5" stroke="#1a1a1a" stroke-width="1.2" />
<circle cx="428.9" cy="328.29" r="1.2" fill="#7f9cca"/>
<circle cx="428.9" cy="328.29" r="0.5" fill="#3f5f9a"/>
<circle cx="428.07" cy="342.02" r="1.2" fill="#7f9cca"/>
<circle cx="428.07" cy="342.02" r="0.5" fill="#3f5f9a"/>
<circle cx="428.77" cy="345.14" r="1.2" fill="#7f9cca"/>
<circle cx="428.77" cy="345.14" r="0.5" fill="#3f5f9a"/>
<circle cx="426.44" cy="348.26" r="1.2" fill="#7f9cca"/>
<circle cx="426.44" cy="348.26" r="0.5" fill="#3f5f9a"/>
<circle cx="428.41" cy="351.38" r="1.2" fill="#7f9cca"/>
<circle cx="428.41" cy="351.38" r="0.5" fill="#3f5f9a"/>
<circle cx="426.27" cy="352.63" r="1.2" fill="#7f9cca"/>
<circle cx="426.27" cy="352.63" r="0.5" fill="#3f5f9a"/>
<circle cx="429.7" cy="354" r="1.15" fill="#4768a6"/>
<line x1="427.5" y1="340.77" x2="427.5" y2="354.5" stroke="#1a1a1a" stroke-width="0.9" />
<line x1="426.1" y1="340.5" x2="428.9" y2="340.5" stroke="#1a1a1a" stroke-width="0.9" />
<line x1="424.8" y1="348.5" x2="430.2" y2="348.5" stroke="#1a1a1a" stroke-width="1.2" />
<circle cx="441.24" cy="322.68" r="1.25" fill="#a8002d"/>
<circle cx="440.35" cy="335.78" r="1.25" fill="#a8002d"/>
<circle cx="441.99" cy="338.9" r="1.25" fill="#a8002d"/>
<circle cx="440.98" cy="342.02" r="1.25" fill="#a8002d"/>
<circle cx="441.06" cy="343.27" r="1.25" fill="#a8002d"/>
<circle cx="442.02" cy="348.26" r="1.25" fill="#a8002d"/>
<circle cx="439.53" cy="351.38" r="1.25" fill="#a8002d"/>
<circle cx="443" cy="354" r="1.25" fill="#a8002d"/>
<line x1="440.5" y1="333.28" x2="440.5" y2="351.38" stroke="#1a1a1a" stroke-width="0.9" />
<line x1="439.4" y1="333.5" x2="442.2" y2="333.5" stroke="#1a1a1a" stroke-width="0.9" />
<line x1="439.4" y1="351.5" x2="442.2" y2="351.5" stroke="#1a1a1a" stroke-width="0.9" />
<line x1="438.1" y1="343.5" x2="443.5" y2="343.5" stroke="#1a1a1a" stroke-width="1.2" />
<circle cx="449.62" cy="330.16" r="1.2" fill="#7f9cca"/>
<circle cx="449.62" cy="330.16" r="0.5" fill="#3f5f9a"/>
<circle cx="448.86" cy="344.52" r="1.2" fill="#7f9cca"/>
<circle cx="448.86" cy="344.52" r="0.5" fill="#3f5f9a"/>
<circle cx="450.15" cy="347.01" r="1.2" fill="#7f9cca"/>
<circle cx="450.15" cy="347.01" r="0.5" fill="#3f5f9a"/>
<circle cx="448.45" cy="349.51" r="1.2" fill="#7f9cca"/>
<circle cx="448.45" cy="349.51" r="0.5" fill="#3f5f9a"/>
<circle cx="450.77" cy="351.38" r="1.2" fill="#7f9cca"/>
<circle cx="450.77" cy="351.38" r="0.5" fill="#3f5f9a"/>
<circle cx="449.45" cy="352.63" r="1.2" fill="#7f9cca"/>
<circle cx="449.45" cy="352.63" r="0.5" fill="#3f5f9a"/>
<circle cx="451.4" cy="354" r="1.15" fill="#4768a6"/>
<line x1="449.5" y1="340.77" x2="449.5" y2="354.5" stroke="#1a1a1a" stroke-width="0.9" />
<line x1="447.8" y1="340.5" x2="450.6" y2="340.5" stroke="#1a1a1a" stroke-width="0.9" />
<line x1="446.5" y1="348.5" x2="451.9" y2="348.5" stroke="#1a1a1a" stroke-width="1.2" />
<circle cx="463.55" cy="308.95" r="1.25" fill="#a8002d"/>
<circle cx="462.52" cy="329.54" r="1.25" fill="#a8002d"/>
<circle cx="461.67" cy="332.66" r="1.25" fill="#a8002d"/>
<circle cx="463.48" cy="337.03" r="1.25" fill="#a8002d"/>
<circle cx="461.25" cy="340.77" r="1.25" fill="#a8002d"/>
<circle cx="463.72" cy="342.02" r="1.25" fill="#a8002d"/>
<circle cx="461.91" cy="348.26" r="1.25" fill="#a8002d"/>
<circle cx="463.15" cy="349.51" r="1.25" fill="#a8002d"/>
<line x1="462.5" y1="324.55" x2="462.5" y2="349.51" stroke="#1a1a1a" stroke-width="0.9" />
<line x1="461.3" y1="324.5" x2="464.1" y2="324.5" stroke="#1a1a1a" stroke-width="0.9" />
<line x1="461.3" y1="349.5" x2="464.1" y2="349.5" stroke="#1a1a1a" stroke-width="0.9" />
<line x1="460" y1="337.5" x2="465.4" y2="337.5" stroke="#1a1a1a" stroke-width="1.2" />
<circle cx="472.65" cy="332.66" r="1.2" fill="#7f9cca"/>
<circle cx="472.65" cy="332.66" r="0.5" fill="#3f5f9a"/>
<circle cx="471.37" cy="334.53" r="1.2" fill="#7f9cca"/>
<circle cx="471.37" cy="334.53" r="0.5" fill="#3f5f9a"/>
<circle cx="471.62" cy="347.01" r="1.2" fill="#7f9cca"/>
<circle cx="471.62" cy="347.01" r="0.5" fill="#3f5f9a"/>
<circle cx="470.5" cy="348.26" r="1.2" fill="#7f9cca"/>
<circle cx="470.5" cy="348.26" r="0.5" fill="#3f5f9a"/>
<circle cx="469.51" cy="351.38" r="1.2" fill="#7f9cca"/>
<circle cx="469.51" cy="351.38" r="0.5" fill="#3f5f9a"/>
<circle cx="469.61" cy="352.63" r="1.2" fill="#7f9cca"/>
<circle cx="469.61" cy="352.63" r="0.5" fill="#3f5f9a"/>
<circle cx="473.3" cy="354" r="1.15" fill="#4768a6"/>
<line x1="471.5" y1="339.52" x2="471.5" y2="352.63" stroke="#1a1a1a" stroke-width="0.9" />
<line x1="469.7" y1="339.5" x2="472.5" y2="339.5" stroke="#1a1a1a" stroke-width="0.9" />
<line x1="469.7" y1="352.5" x2="472.5" y2="352.5" stroke="#1a1a1a" stroke-width="0.9" />
<line x1="468.4" y1="346.5" x2="473.8" y2="346.5" stroke="#1a1a1a" stroke-width="1.2" />
<path d="M418.5 299 V297.5 H427.5 V318.5" fill="none" stroke="#1a1a1a" stroke-width="0.9"/>
<text x="422.95" y="297.6" font-size="6.4" text-anchor="middle" stroke="#000" stroke-width="0.18">*</text>
<path d="M462.5 299 V296.5 H471.5 V318.5" fill="none" stroke="#1a1a1a" stroke-width="0.9"/>
<text x="466.75" y="297.1" font-size="6.4" text-anchor="middle" stroke="#000" stroke-width="0.18">*</text>
<text x="0" y="0" font-size="8.3" text-anchor="end" stroke="#000" stroke-width="0.18" transform="translate(425.8 364) rotate(-45)">HSC<tspan font-size="6" dy="-3.2" stroke-width="0.06">CD49b−</tspan></text>
<text x="0" y="0" font-size="8.3" text-anchor="end" stroke="#000" stroke-width="0.18" transform="translate(447.5 364) rotate(-45)">HSC<tspan font-size="6" dy="-3.2" stroke-width="0.06">CD49b+</tspan></text>
<text x="0" y="0" font-size="8.3" text-anchor="end" stroke="#000" stroke-width="0.18" transform="translate(469.4 364) rotate(-45)">MPP1</text>
<text x="0" y="0" font-size="10.2" text-anchor="middle" font-weight="bold" textLength="46.4" lengthAdjust="spacingAndGlyphs" transform="translate(268 442.2) rotate(-90)">Donor cells (%)</text>
<line x1="289.5" y1="409.2" x2="289.5" y2="476" stroke="#1a1a1a" stroke-width="1" />
<line x1="285.5" y1="475.5" x2="289" y2="475.5" stroke="#1a1a1a" stroke-width="1" />
<text x="283.2" y="478.4" font-size="8.6" text-anchor="end" stroke="#000" stroke-width="0.18" textLength="4.55" lengthAdjust="spacingAndGlyphs">0</text>
<line x1="285.5" y1="454.5" x2="289" y2="454.5" stroke="#1a1a1a" stroke-width="1" />
<text x="283.2" y="457.2" font-size="8.6" text-anchor="end" stroke="#000" stroke-width="0.18" textLength="9.1" lengthAdjust="spacingAndGlyphs">20</text>
<line x1="285.5" y1="433.5" x2="289" y2="433.5" stroke="#1a1a1a" stroke-width="1" />
<text x="283.2" y="436" font-size="8.6" text-anchor="end" stroke="#000" stroke-width="0.18" textLength="9.1" lengthAdjust="spacingAndGlyphs">40</text>
<line x1="285.5" y1="411.5" x2="289" y2="411.5" stroke="#1a1a1a" stroke-width="1" />
<text x="283.2" y="414.8" font-size="8.6" text-anchor="end" stroke="#000" stroke-width="0.18" textLength="9.1" lengthAdjust="spacingAndGlyphs">60</text>
<line x1="288.5" y1="475.5" x2="382.5" y2="475.5" stroke="#1a1a1a" stroke-width="1" />
<line x1="297.5" y1="475.5" x2="297.5" y2="478.3" stroke="#1a1a1a" stroke-width="1" />
<text x="297.4" y="489.2" font-size="8.8" text-anchor="middle" stroke="#000" stroke-width="0.18" textLength="4.6" lengthAdjust="spacingAndGlyphs">4</text>
<line x1="316.5" y1="475.5" x2="316.5" y2="478.3" stroke="#1a1a1a" stroke-width="1" />
<text x="316.6" y="489.2" font-size="8.8" text-anchor="middle" stroke="#000" stroke-width="0.18" textLength="4.6" lengthAdjust="spacingAndGlyphs">8</text>
<line x1="335.5" y1="475.5" x2="335.5" y2="478.3" stroke="#1a1a1a" stroke-width="1" />
<text x="335.8" y="489.2" font-size="8.8" text-anchor="middle" stroke="#000" stroke-width="0.18" textLength="9.2" lengthAdjust="spacingAndGlyphs">12</text>
<line x1="355.5" y1="475.5" x2="355.5" y2="478.3" stroke="#1a1a1a" stroke-width="1" />
<text x="355" y="489.2" font-size="8.8" text-anchor="middle" stroke="#000" stroke-width="0.18" textLength="9.2" lengthAdjust="spacingAndGlyphs">16</text>
<line x1="374.5" y1="475.5" x2="374.5" y2="478.3" stroke="#1a1a1a" stroke-width="1" />
<text x="374.2" y="489.2" font-size="8.8" text-anchor="middle" stroke="#000" stroke-width="0.18" textLength="9.2" lengthAdjust="spacingAndGlyphs">20</text>
<rect x="291.45" y="446.14" width="4.95" height="29.36" fill="#a8002d"/>
<line x1="293.5" y1="446.14" x2="293.5" y2="440.52" stroke="#1a1a1a" stroke-width="0.9" />
<line x1="292.62" y1="440.5" x2="295.22" y2="440.5" stroke="#1a1a1a" stroke-width="0.9" />
<circle cx="292.67" cy="451.59" r="1.15" fill="#000"/>
<circle cx="293.47" cy="450.63" r="1.15" fill="#000"/>
<circle cx="293.04" cy="449.35" r="1.15" fill="#000"/>
<circle cx="294.19" cy="447.72" r="1.15" fill="#000"/>
<circle cx="294.21" cy="447.44" r="1.15" fill="#000"/>
<circle cx="292.98" cy="446.15" r="1.15" fill="#000"/>
<circle cx="294.32" cy="444.47" r="1.15" fill="#000"/>
<circle cx="293.84" cy="444.03" r="1.15" fill="#000"/>
<circle cx="292.76" cy="442.88" r="1.15" fill="#000"/>
<circle cx="295.32" cy="441.28" r="1.15" fill="#000"/>
<circle cx="293.1" cy="434.16" r="1.15" fill="#000"/>
<rect x="298.4" y="454.72" width="4.95" height="20.78" fill="#2c4a84"/>
<line x1="300.5" y1="454.72" x2="300.5" y2="447.94" stroke="#1a1a1a" stroke-width="0.9" />
<line x1="299.57" y1="447.5" x2="302.18" y2="447.5" stroke="#1a1a1a" stroke-width="0.9" />
<circle cx="300.4" cy="461.97" r="1.1" fill="#444" stroke="#111" stroke-width="0.75"/>
<circle cx="301.34" cy="460.63" r="1.1" fill="#444" stroke="#111" stroke-width="0.75"/>
<circle cx="300.7" cy="458.43" r="1.1" fill="#444" stroke="#111" stroke-width="0.75"/>
<circle cx="302.27" cy="456.67" r="1.1" fill="#444" stroke="#111" stroke-width="0.75"/>
<circle cx="301.62" cy="455.37" r="1.1" fill="#444" stroke="#111" stroke-width="0.75"/>
<circle cx="300.07" cy="454.49" r="1.1" fill="#444" stroke="#111" stroke-width="0.75"/>
<circle cx="302.17" cy="453.26" r="1.1" fill="#444" stroke="#111" stroke-width="0.75"/>
<circle cx="299.42" cy="452.2" r="1.1" fill="#444" stroke="#111" stroke-width="0.75"/>
<circle cx="300.98" cy="449.87" r="1.1" fill="#444" stroke="#111" stroke-width="0.75"/>
<circle cx="300.57" cy="448.56" r="1.1" fill="#444" stroke="#111" stroke-width="0.75"/>
<circle cx="300.04" cy="444.76" r="1.1" fill="#444" stroke="#111" stroke-width="0.75"/>
<rect x="310.65" y="457.16" width="4.95" height="18.34" fill="#a8002d"/>
<line x1="313.5" y1="457.16" x2="313.5" y2="449" stroke="#1a1a1a" stroke-width="0.9" />
<line x1="311.82" y1="449.5" x2="314.43" y2="449.5" stroke="#1a1a1a" stroke-width="0.9" />
<circle cx="314.13" cy="466.04" r="1.15" fill="#000"/>
<circle cx="312.08" cy="463.09" r="1.15" fill="#000"/>
<circle cx="312.52" cy="462.69" r="1.15" fill="#000"/>
<circle cx="312.49" cy="460.05" r="1.15" fill="#000"/>
<circle cx="311.68" cy="457.67" r="1.15" fill="#000"/>
<circle cx="314.37" cy="457.33" r="1.15" fill="#000"/>
<circle cx="314.03" cy="455.51" r="1.15" fill="#000"/>
<circle cx="313.81" cy="453.1" r="1.15" fill="#000"/>
<circle cx="311.55" cy="451.56" r="1.15" fill="#000"/>
<circle cx="314.23" cy="449.61" r="1.15" fill="#000"/>
<circle cx="313.91" cy="444.76" r="1.15" fill="#000"/>
<rect x="317.6" y="470.2" width="4.95" height="5.3" fill="#2c4a84"/>
<line x1="320.5" y1="470.2" x2="320.5" y2="467.02" stroke="#1a1a1a" stroke-width="0.9" />
<line x1="318.77" y1="467.5" x2="321.37" y2="467.5" stroke="#1a1a1a" stroke-width="0.9" />
<circle cx="321.18" cy="473.39" r="1.1" fill="#444" stroke="#111" stroke-width="0.75"/>
<circle cx="320.75" cy="472.53" r="1.1" fill="#444" stroke="#111" stroke-width="0.75"/>
<circle cx="319.33" cy="472.06" r="1.1" fill="#444" stroke="#111" stroke-width="0.75"/>
<circle cx="320.25" cy="471.54" r="1.1" fill="#444" stroke="#111" stroke-width="0.75"/>
<circle cx="319.87" cy="470.96" r="1.1" fill="#444" stroke="#111" stroke-width="0.75"/>
<circle cx="321" cy="470.2" r="1.1" fill="#444" stroke="#111" stroke-width="0.75"/>
<circle cx="320.15" cy="469.67" r="1.1" fill="#444" stroke="#111" stroke-width="0.75"/>
<circle cx="319.32" cy="468.8" r="1.1" fill="#444" stroke="#111" stroke-width="0.75"/>
<circle cx="320.53" cy="467.85" r="1.1" fill="#444" stroke="#111" stroke-width="0.75"/>
<circle cx="321.56" cy="467.22" r="1.1" fill="#444" stroke="#111" stroke-width="0.75"/>
<circle cx="319.17" cy="463.84" r="1.1" fill="#444" stroke="#111" stroke-width="0.75"/>
<rect x="329.85" y="455.36" width="4.95" height="20.14" fill="#a8002d"/>
<line x1="332.5" y1="455.36" x2="332.5" y2="447.94" stroke="#1a1a1a" stroke-width="0.9" />
<line x1="331.02" y1="447.5" x2="333.62" y2="447.5" stroke="#1a1a1a" stroke-width="0.9" />
<circle cx="331.49" cy="462.15" r="1.15" fill="#000"/>
<circle cx="333.63" cy="461.94" r="1.15" fill="#000"/>
<circle cx="332.74" cy="460" r="1.15" fill="#000"/>
<circle cx="332.94" cy="458.48" r="1.15" fill="#000"/>
<circle cx="332.85" cy="456.13" r="1.15" fill="#000"/>
<circle cx="333.86" cy="454.26" r="1.15" fill="#000"/>
<circle cx="332.23" cy="453.01" r="1.15" fill="#000"/>
<circle cx="333.41" cy="452.11" r="1.15" fill="#000"/>
<circle cx="332.96" cy="449.68" r="1.15" fill="#000"/>
<circle cx="333.47" cy="448.99" r="1.15" fill="#000"/>
<circle cx="332.12" cy="441.58" r="1.15" fill="#000"/>
<rect x="336.8" y="472.64" width="4.95" height="2.86" fill="#2c4a84"/>
<line x1="339.5" y1="472.64" x2="339.5" y2="470.2" stroke="#1a1a1a" stroke-width="0.9" />
<line x1="337.97" y1="470.5" x2="340.57" y2="470.5" stroke="#1a1a1a" stroke-width="0.9" />
<circle cx="340.65" cy="474.72" r="1.1" fill="#444" stroke="#111" stroke-width="0.75"/>
<circle cx="338.78" cy="474.31" r="1.1" fill="#444" stroke="#111" stroke-width="0.75"/>
<circle cx="338.13" cy="473.95" r="1.1" fill="#444" stroke="#111" stroke-width="0.75"/>
<circle cx="337.77" cy="473.51" r="1.1" fill="#444" stroke="#111" stroke-width="0.75"/>
<circle cx="337.81" cy="472.82" r="1.1" fill="#444" stroke="#111" stroke-width="0.75"/>
<circle cx="339.89" cy="472.6" r="1.1" fill="#444" stroke="#111" stroke-width="0.75"/>
<circle cx="339.7" cy="471.71" r="1.1" fill="#444" stroke="#111" stroke-width="0.75"/>
<circle cx="339.91" cy="471.59" r="1.1" fill="#444" stroke="#111" stroke-width="0.75"/>
<circle cx="340.03" cy="471.16" r="1.1" fill="#444" stroke="#111" stroke-width="0.75"/>
<circle cx="337.89" cy="470.64" r="1.1" fill="#444" stroke="#111" stroke-width="0.75"/>
<circle cx="339.56" cy="468.08" r="1.1" fill="#444" stroke="#111" stroke-width="0.75"/>
<rect x="349.05" y="454.72" width="4.95" height="20.78" fill="#a8002d"/>
<line x1="351.5" y1="454.72" x2="351.5" y2="442.64" stroke="#1a1a1a" stroke-width="0.9" />
<line x1="350.22" y1="442.5" x2="352.82" y2="442.5" stroke="#1a1a1a" stroke-width="0.9" />
<circle cx="350.28" cy="467.09" r="1.15" fill="#000"/>
<circle cx="350.04" cy="463.4" r="1.15" fill="#000"/>
<circle cx="352.64" cy="460.86" r="1.15" fill="#000"/>
<circle cx="352.52" cy="458.14" r="1.15" fill="#000"/>
<circle cx="351.95" cy="457.7" r="1.15" fill="#000"/>
<circle cx="352.57" cy="453.13" r="1.15" fill="#000"/>
<circle cx="351.95" cy="450.47" r="1.15" fill="#000"/>
<circle cx="350.84" cy="447.86" r="1.15" fill="#000"/>
<circle cx="350.24" cy="447.44" r="1.15" fill="#000"/>
<circle cx="350.24" cy="444.66" r="1.15" fill="#000"/>
<circle cx="352.35" cy="436.28" r="1.15" fill="#000"/>
<circle cx="350.58" cy="430.98" r="1.15" fill="#000"/>
<rect x="356" y="472.85" width="4.95" height="2.65" fill="#2c4a84"/>
<line x1="358.5" y1="472.85" x2="358.5" y2="470.2" stroke="#1a1a1a" stroke-width="0.9" />
<line x1="357.18" y1="470.5" x2="359.78" y2="470.5" stroke="#1a1a1a" stroke-width="0.9" />
<circle cx="359.6" cy="474.92" r="1.1" fill="#444" stroke="#111" stroke-width="0.75"/>
<circle cx="358.85" cy="474.38" r="1.1" fill="#444" stroke="#111" stroke-width="0.75"/>
<circle cx="356.97" cy="474.09" r="1.1" fill="#444" stroke="#111" stroke-width="0.75"/>
<circle cx="358.2" cy="473.49" r="1.1" fill="#444" stroke="#111" stroke-width="0.75"/>
<circle cx="358.27" cy="472.99" r="1.1" fill="#444" stroke="#111" stroke-width="0.75"/>
<circle cx="359.35" cy="472.29" r="1.1" fill="#444" stroke="#111" stroke-width="0.75"/>
<circle cx="357.98" cy="471.97" r="1.1" fill="#444" stroke="#111" stroke-width="0.75"/>
<circle cx="359.13" cy="471.51" r="1.1" fill="#444" stroke="#111" stroke-width="0.75"/>
<circle cx="358.6" cy="470.71" r="1.1" fill="#444" stroke="#111" stroke-width="0.75"/>
<circle cx="357.57" cy="470.44" r="1.1" fill="#444" stroke="#111" stroke-width="0.75"/>
<circle cx="359.63" cy="468.08" r="1.1" fill="#444" stroke="#111" stroke-width="0.75"/>
<rect x="368.25" y="455.89" width="4.95" height="19.61" fill="#a8002d"/>
<line x1="370.5" y1="455.89" x2="370.5" y2="443.7" stroke="#1a1a1a" stroke-width="0.9" />
<line x1="369.43" y1="443.5" x2="372.03" y2="443.5" stroke="#1a1a1a" stroke-width="0.9" />
<circle cx="371.67" cy="469.07" r="1.15" fill="#000"/>
<circle cx="369.72" cy="464.64" r="1.15" fill="#000"/>
<circle cx="370.71" cy="463.74" r="1.15" fill="#000"/>
<circle cx="370.24" cy="461.62" r="1.15" fill="#000"/>
<circle cx="371.79" cy="458.54" r="1.15" fill="#000"/>
<circle cx="369.96" cy="454.55" r="1.15" fill="#000"/>
<circle cx="372.15" cy="451.44" r="1.15" fill="#000"/>
<circle cx="370.03" cy="451.37" r="1.15" fill="#000"/>
<circle cx="369.81" cy="447.56" r="1.15" fill="#000"/>
<circle cx="371.36" cy="445" r="1.15" fill="#000"/>
<circle cx="370.72" cy="441.58" r="1.15" fill="#000"/>
<circle cx="369.48" cy="439.46" r="1.15" fill="#000"/>
<rect x="375.2" y="473.91" width="4.95" height="1.59" fill="#2c4a84"/>
<line x1="377.5" y1="473.91" x2="377.5" y2="471.26" stroke="#1a1a1a" stroke-width="0.9" />
<line x1="376.37" y1="471.5" x2="378.97" y2="471.5" stroke="#1a1a1a" stroke-width="0.9" />
<circle cx="376.35" cy="474.83" r="1.1" fill="#444" stroke="#111" stroke-width="0.75"/>
<circle cx="378.92" cy="474.66" r="1.1" fill="#444" stroke="#111" stroke-width="0.75"/>
<circle cx="376.16" cy="474.01" r="1.1" fill="#444" stroke="#111" stroke-width="0.75"/>
<circle cx="376.73" cy="473.67" r="1.1" fill="#444" stroke="#111" stroke-width="0.75"/>
<circle cx="376.92" cy="473.25" r="1.1" fill="#444" stroke="#111" stroke-width="0.75"/>
<circle cx="378.96" cy="472.93" r="1.1" fill="#444" stroke="#111" stroke-width="0.75"/>
<circle cx="377.68" cy="472.65" r="1.1" fill="#444" stroke="#111" stroke-width="0.75"/>
<circle cx="377.29" cy="472.25" r="1.1" fill="#444" stroke="#111" stroke-width="0.75"/>
<circle cx="378.9" cy="471.87" r="1.1" fill="#444" stroke="#111" stroke-width="0.75"/>
<circle cx="376.82" cy="471.3" r="1.1" fill="#444" stroke="#111" stroke-width="0.75"/>
<circle cx="377.55" cy="468.08" r="1.1" fill="#444" stroke="#111" stroke-width="0.75"/>
<path d="M311.5 429.8 V427.5 H320.5 V450.4" fill="none" stroke="#1a1a1a" stroke-width="0.9"/>
<text x="315.65" y="427.9" font-size="6.4" text-anchor="middle" stroke="#000" stroke-width="0.18">*</text>
<path d="M330.5 429.8 V427.5 H339.5 V450.4" fill="none" stroke="#1a1a1a" stroke-width="0.9"/>
<text x="335.3" y="427.9" font-size="6.4" text-anchor="middle" stroke="#000" stroke-width="0.18" letter-spacing="0.9">**</text>
<path d="M349.5 429.8 V427.5 H357.5 V450.4" fill="none" stroke="#1a1a1a" stroke-width="0.9"/>
<text x="354.05" y="427.9" font-size="6.4" text-anchor="middle" stroke="#000" stroke-width="0.18" letter-spacing="0.9">***</text>
<path d="M368.5 429.8 V427.5 H377.5 V450.4" fill="none" stroke="#1a1a1a" stroke-width="0.9"/>
<text x="373.2" y="427.9" font-size="6.4" text-anchor="middle" stroke="#000" stroke-width="0.18" letter-spacing="0.9">**</text>
<text x="295.7" y="502.4" font-size="10" font-weight="bold" textLength="80" lengthAdjust="spacingAndGlyphs">Weeks post-transplantation</text>
<line x1="413.5" y1="410.8" x2="413.5" y2="476" stroke="#1a1a1a" stroke-width="1" />
<line x1="410" y1="475.5" x2="413.5" y2="475.5" stroke="#1a1a1a" stroke-width="1" />
<text x="406.9" y="478.4" font-size="8.6" text-anchor="end" stroke="#000" stroke-width="0.18" textLength="4.55" lengthAdjust="spacingAndGlyphs">0</text>
<line x1="410" y1="444.5" x2="413.5" y2="444.5" stroke="#1a1a1a" stroke-width="1" />
<text x="406.9" y="447.4" font-size="8.6" text-anchor="end" stroke="#000" stroke-width="0.18" textLength="9.1" lengthAdjust="spacingAndGlyphs">50</text>
<line x1="410" y1="413.5" x2="413.5" y2="413.5" stroke="#1a1a1a" stroke-width="1" />
<text x="406.9" y="416.4" font-size="8.6" text-anchor="end" stroke="#000" stroke-width="0.18" textLength="13.65" lengthAdjust="spacingAndGlyphs">100</text>
<line x1="413" y1="475.5" x2="475.4" y2="475.5" stroke="#1a1a1a" stroke-width="1" />
<line x1="423.5" y1="475.5" x2="423.5" y2="478.3" stroke="#1a1a1a" stroke-width="1" />
<line x1="445.5" y1="475.5" x2="445.5" y2="478.3" stroke="#1a1a1a" stroke-width="1" />
<line x1="467.5" y1="475.5" x2="467.5" y2="478.3" stroke="#1a1a1a" stroke-width="1" />
<circle cx="419.4" cy="424.04" r="1.25" fill="#a8002d"/>
<circle cx="420.11" cy="451.94" r="1.25" fill="#a8002d"/>
<circle cx="420.11" cy="453.18" r="1.25" fill="#a8002d"/>
<circle cx="419.74" cy="475" r="1.25" fill="#a8002d"/>
<circle cx="420.62" cy="475" r="1.25" fill="#a8002d"/>
<circle cx="421.5" cy="475" r="1.25" fill="#a8002d"/>
<line x1="419.5" y1="444.5" x2="419.5" y2="475.5" stroke="#1a1a1a" stroke-width="0.9" />
<line x1="417.9" y1="444.5" x2="420.7" y2="444.5" stroke="#1a1a1a" stroke-width="0.9" />
<line x1="416.6" y1="463.5" x2="422" y2="463.5" stroke="#1a1a1a" stroke-width="1.2" />
<circle cx="425.5" cy="475" r="1.15" fill="#4768a6"/>
<circle cx="426.97" cy="475" r="1.15" fill="#4768a6"/>
<circle cx="428.43" cy="475" r="1.15" fill="#4768a6"/>
<circle cx="429.9" cy="475" r="1.15" fill="#4768a6"/>
<line x1="425" y1="475.5" x2="430.4" y2="475.5" stroke="#1a1a1a" stroke-width="1.2" />
<circle cx="439.94" cy="415.36" r="1.25" fill="#a8002d"/>
<circle cx="440.8" cy="452.56" r="1.25" fill="#a8002d"/>
<circle cx="441.87" cy="455.66" r="1.25" fill="#a8002d"/>
<circle cx="441.25" cy="456.28" r="1.25" fill="#a8002d"/>
<circle cx="439.8" cy="460.62" r="1.25" fill="#a8002d"/>
<circle cx="440.88" cy="462.48" r="1.25" fill="#a8002d"/>
<circle cx="442.23" cy="464.96" r="1.25" fill="#a8002d"/>
<circle cx="440.16" cy="468.06" r="1.25" fill="#a8002d"/>
<circle cx="443.2" cy="475" r="1.25" fill="#a8002d"/>
<line x1="441.5" y1="438.3" x2="441.5" y2="475.5" stroke="#1a1a1a" stroke-width="0.9" />
<line x1="439.6" y1="438.5" x2="442.4" y2="438.5" stroke="#1a1a1a" stroke-width="0.9" />
<line x1="438.3" y1="456.5" x2="443.7" y2="456.5" stroke="#1a1a1a" stroke-width="1.2" />
<circle cx="447.2" cy="475" r="1.15" fill="#4768a6"/>
<circle cx="448.67" cy="475" r="1.15" fill="#4768a6"/>
<circle cx="450.13" cy="475" r="1.15" fill="#4768a6"/>
<circle cx="451.6" cy="475" r="1.15" fill="#4768a6"/>
<line x1="446.7" y1="475.5" x2="452.1" y2="475.5" stroke="#1a1a1a" stroke-width="1.2" />
<circle cx="461.7" cy="435.2" r="1.25" fill="#a8002d"/>
<circle cx="461.99" cy="442.64" r="1.25" fill="#a8002d"/>
<circle cx="462.25" cy="460" r="1.25" fill="#a8002d"/>
<circle cx="462.87" cy="460.62" r="1.25" fill="#a8002d"/>
<circle cx="461.71" cy="462.48" r="1.25" fill="#a8002d"/>
<circle cx="462.25" cy="463.72" r="1.25" fill="#a8002d"/>
<circle cx="461.81" cy="467.44" r="1.25" fill="#a8002d"/>
<circle cx="464.32" cy="470.54" r="1.25" fill="#a8002d"/>
<circle cx="463.53" cy="471.78" r="1.25" fill="#a8002d"/>
<line x1="462.5" y1="445.12" x2="462.5" y2="470.54" stroke="#1a1a1a" stroke-width="0.9" />
<line x1="461.4" y1="445.5" x2="464.2" y2="445.5" stroke="#1a1a1a" stroke-width="0.9" />
<line x1="461.4" y1="470.5" x2="464.2" y2="470.5" stroke="#1a1a1a" stroke-width="0.9" />
<line x1="460.1" y1="458.5" x2="465.5" y2="458.5" stroke="#1a1a1a" stroke-width="1.2" />
<circle cx="469" cy="475" r="1.15" fill="#4768a6"/>
<circle cx="470.47" cy="475" r="1.15" fill="#4768a6"/>
<circle cx="471.93" cy="475" r="1.15" fill="#4768a6"/>
<circle cx="473.4" cy="475" r="1.15" fill="#4768a6"/>
<line x1="468.5" y1="475.5" x2="473.9" y2="475.5" stroke="#1a1a1a" stroke-width="1.2" />
<text x="0" y="0" font-size="8.3" text-anchor="end" stroke="#000" stroke-width="0.18" transform="translate(426 485) rotate(-45)">HSC<tspan font-size="6" dy="-3.2" stroke-width="0.06">CD49b−</tspan></text>
<text x="0" y="0" font-size="8.3" text-anchor="end" stroke="#000" stroke-width="0.18" transform="translate(447.7 485) rotate(-45)">HSC<tspan font-size="6" dy="-3.2" stroke-width="0.06">CD49b+</tspan></text>
<text x="0" y="0" font-size="8.3" text-anchor="end" stroke="#000" stroke-width="0.18" transform="translate(469.5 485) rotate(-45)">MPP1</text>
<text x="279.3" y="562.2" font-size="8.2" stroke="#000" stroke-width="0.18" textLength="52" lengthAdjust="spacingAndGlyphs">Transplantation</text>
<text x="272" y="571.9" font-size="8.2" stroke="#000" stroke-width="0.18" textLength="66" lengthAdjust="spacingAndGlyphs">in limiting condition</text>
<text x="280" y="588" font-size="8.7" stroke="#000" stroke-width="0.18" textLength="53.8" lengthAdjust="spacingAndGlyphs">50 HSC<tspan font-size="6.2" dy="-3.4" stroke-width="0.06">CD49b−</tspan></text>
<text x="270" y="597.5" font-size="8.7" stroke="#000" stroke-width="0.18" textLength="71.3" lengthAdjust="spacingAndGlyphs">+ 3x10<tspan font-size="6.2" dy="-3.2" stroke-width="0.06">5</tspan><tspan dy="3.2" font-size="8.4"> competitors</tspan></text>
<path d="M38 148 C45 130 75 112 110 100 L145 92 C138 72 156 56 176 58 C196 60 210 72 206 86 C225 66 255 52 285 52 C330 53 368 78 388 112 C400 135 402 160 400 185 C430 192 465 212 482 242 C492 262 488 286 474 301 C468 304 462 300 464 294 C474 278 474 258 460 242 C445 228 425 220 405 218 C385 222 362 230 350 240 C343 250 335 262 322 266 L300 267 C292 265 293 257 303 254 L318 248 C322 244 322 240 318 238 C290 240 250 242 215 246 C200 249 185 255 172 262 L145 270 C133 270 128 264 135 259 L160 245 C150 238 130 240 112 243 C100 244 97 236 104 232 L125 222 C128 215 125 208 118 200 C100 188 80 175 60 168 C45 163 37 157 38 148 Z" fill="#000" transform="translate(283.3 605) scale(0.10044 0.10000) translate(-35 -50)"/>
<text x="272.5" y="639" font-size="8.2" font-style="italic" stroke="#000" stroke-width="0.18" textLength="68.8" lengthAdjust="spacingAndGlyphs">Irradiated recipients</text>
<rect x="425.5" y="543" width="4.5" height="4.5" fill="#a8002d"/>
<rect x="425.5" y="552" width="4.5" height="4.5" fill="#2c4a84"/>
<text x="433.3" y="548" font-size="8.5" font-style="italic" stroke="#000" stroke-width="0.18"><tspan font-style="normal">C</tspan>trl</text>
<text x="433.1" y="557" font-size="8.5" font-style="italic" stroke="#000" stroke-width="0.18">db</text>
<text x="0" y="0" font-size="10.2" text-anchor="middle" font-weight="bold" textLength="46.7" lengthAdjust="spacingAndGlyphs" transform="translate(394.4 579.8) rotate(-90)">Donor cells (%)</text>
<line x1="420.5" y1="546.3" x2="420.5" y2="614" stroke="#1a1a1a" stroke-width="1" />
<line x1="416.5" y1="613.5" x2="420" y2="613.5" stroke="#1a1a1a" stroke-width="1" />
<text x="415" y="616.4" font-size="8.6" text-anchor="end" stroke="#000" stroke-width="0.18" textLength="4.55" lengthAdjust="spacingAndGlyphs">0</text>
<line x1="416.5" y1="600.5" x2="420" y2="600.5" stroke="#1a1a1a" stroke-width="1" />
<text x="415" y="603.5" font-size="8.6" text-anchor="end" stroke="#000" stroke-width="0.18" textLength="9.1" lengthAdjust="spacingAndGlyphs">20</text>
<line x1="416.5" y1="587.5" x2="420" y2="587.5" stroke="#1a1a1a" stroke-width="1" />
<text x="415" y="590.6" font-size="8.6" text-anchor="end" stroke="#000" stroke-width="0.18" textLength="9.1" lengthAdjust="spacingAndGlyphs">40</text>
<line x1="416.5" y1="574.5" x2="420" y2="574.5" stroke="#1a1a1a" stroke-width="1" />
<text x="415" y="577.7" font-size="8.6" text-anchor="end" stroke="#000" stroke-width="0.18" textLength="9.1" lengthAdjust="spacingAndGlyphs">60</text>
<line x1="416.5" y1="561.5" x2="420" y2="561.5" stroke="#1a1a1a" stroke-width="1" />
<text x="415" y="564.8" font-size="8.6" text-anchor="end" stroke="#000" stroke-width="0.18" textLength="9.1" lengthAdjust="spacingAndGlyphs">80</text>
<line x1="416.5" y1="549.5" x2="420" y2="549.5" stroke="#1a1a1a" stroke-width="1" />
<text x="415" y="551.9" font-size="8.6" text-anchor="end" stroke="#000" stroke-width="0.18" textLength="13.65" lengthAdjust="spacingAndGlyphs">100</text>
<line x1="419.5" y1="613.5" x2="511" y2="613.5" stroke="#1a1a1a" stroke-width="1" />
<line x1="428.5" y1="613.5" x2="428.5" y2="616.3" stroke="#1a1a1a" stroke-width="1" />
<text x="428.2" y="626.4" font-size="8.8" text-anchor="middle" stroke="#000" stroke-width="0.18" textLength="4.6" lengthAdjust="spacingAndGlyphs">4</text>
<line x1="447.5" y1="613.5" x2="447.5" y2="616.3" stroke="#1a1a1a" stroke-width="1" />
<text x="447.3" y="626.4" font-size="8.8" text-anchor="middle" stroke="#000" stroke-width="0.18" textLength="4.6" lengthAdjust="spacingAndGlyphs">8</text>
<line x1="466.5" y1="613.5" x2="466.5" y2="616.3" stroke="#1a1a1a" stroke-width="1" />
<text x="466.4" y="626.4" font-size="8.8" text-anchor="middle" stroke="#000" stroke-width="0.18" textLength="9.2" lengthAdjust="spacingAndGlyphs">12</text>
<line x1="485.5" y1="613.5" x2="485.5" y2="616.3" stroke="#1a1a1a" stroke-width="1" />
<text x="485.6" y="626.4" font-size="8.8" text-anchor="middle" stroke="#000" stroke-width="0.18" textLength="9.2" lengthAdjust="spacingAndGlyphs">16</text>
<line x1="504.5" y1="613.5" x2="504.5" y2="616.3" stroke="#1a1a1a" stroke-width="1" />
<text x="504.8" y="626.4" font-size="8.8" text-anchor="middle" stroke="#000" stroke-width="0.18" textLength="9.2" lengthAdjust="spacingAndGlyphs">20</text>
<rect x="422.25" y="604.08" width="4.95" height="9.42" fill="#a8002d"/>
<line x1="424.5" y1="604.08" x2="424.5" y2="600.6" stroke="#1a1a1a" stroke-width="0.9" />
<line x1="423.43" y1="600.5" x2="426.03" y2="600.5" stroke="#1a1a1a" stroke-width="0.9" />
<circle cx="424.4" cy="607.19" r="1.15" fill="#000"/>
<circle cx="425.66" cy="606.6" r="1.15" fill="#000"/>
<circle cx="425.34" cy="605.92" r="1.15" fill="#000"/>
<circle cx="424.73" cy="605.4" r="1.15" fill="#000"/>
<circle cx="425.15" cy="604.85" r="1.15" fill="#000"/>
<circle cx="424.61" cy="603.79" r="1.15" fill="#000"/>
<circle cx="423.58" cy="603.45" r="1.15" fill="#000"/>
<circle cx="425.06" cy="602.64" r="1.15" fill="#000"/>
<circle cx="424.42" cy="601.78" r="1.15" fill="#000"/>
<circle cx="425.5" cy="601.31" r="1.15" fill="#000"/>
<circle cx="426.03" cy="599.31" r="1.15" fill="#000"/>
<circle cx="424.5" cy="596.73" r="1.15" fill="#000"/>
<rect x="429.2" y="597.38" width="4.95" height="16.12" fill="#2c4a84"/>
<line x1="431.5" y1="597.38" x2="431.5" y2="594.15" stroke="#1a1a1a" stroke-width="0.9" />
<line x1="430.37" y1="594.5" x2="432.97" y2="594.5" stroke="#1a1a1a" stroke-width="0.9" />
<circle cx="432.13" cy="600.53" r="1.15" fill="none" stroke="#1a1a1a" stroke-width="0.75"/>
<circle cx="431.53" cy="599.74" r="1.15" fill="none" stroke="#1a1a1a" stroke-width="0.75"/>
<circle cx="431.08" cy="599.28" r="1.15" fill="none" stroke="#1a1a1a" stroke-width="0.75"/>
<circle cx="432.09" cy="598.74" r="1.15" fill="none" stroke="#1a1a1a" stroke-width="0.75"/>
<circle cx="430.39" cy="597.72" r="1.15" fill="none" stroke="#1a1a1a" stroke-width="0.75"/>
<circle cx="431.42" cy="596.94" r="1.15" fill="none" stroke="#1a1a1a" stroke-width="0.75"/>
<circle cx="432.58" cy="596.33" r="1.15" fill="none" stroke="#1a1a1a" stroke-width="0.75"/>
<circle cx="432.36" cy="595.71" r="1.15" fill="none" stroke="#1a1a1a" stroke-width="0.75"/>
<circle cx="432.09" cy="594.93" r="1.15" fill="none" stroke="#1a1a1a" stroke-width="0.75"/>
<circle cx="430.88" cy="594.37" r="1.15" fill="none" stroke="#1a1a1a" stroke-width="0.75"/>
<circle cx="431.43" cy="592.22" r="1.15" fill="none" stroke="#1a1a1a" stroke-width="0.75"/>
<circle cx="431.53" cy="590.28" r="1.15" fill="none" stroke="#1a1a1a" stroke-width="0.75"/>
<rect x="441.35" y="597.38" width="4.95" height="16.12" fill="#a8002d"/>
<line x1="443.5" y1="597.38" x2="443.5" y2="592.22" stroke="#1a1a1a" stroke-width="0.9" />
<line x1="442.53" y1="592.5" x2="445.13" y2="592.5" stroke="#1a1a1a" stroke-width="0.9" />
<circle cx="442.35" cy="602.38" r="1.15" fill="#000"/>
<circle cx="443.96" cy="601.52" r="1.15" fill="#000"/>
<circle cx="442.74" cy="600.15" r="1.15" fill="#000"/>
<circle cx="444.73" cy="598.79" r="1.15" fill="#000"/>
<circle cx="445.23" cy="598.52" r="1.15" fill="#000"/>
<circle cx="443.89" cy="596.92" r="1.15" fill="#000"/>
<circle cx="442.55" cy="595.71" r="1.15" fill="#000"/>
<circle cx="444.06" cy="595.04" r="1.15" fill="#000"/>
<circle cx="443.96" cy="593.85" r="1.15" fill="#000"/>
<circle cx="444.52" cy="592.24" r="1.15" fill="#000"/>
<circle cx="443.86" cy="588.99" r="1.15" fill="#000"/>
<circle cx="444.27" cy="585.12" r="1.15" fill="#000"/>
<rect x="448.3" y="588.67" width="4.95" height="24.83" fill="#2c4a84"/>
<line x1="450.5" y1="588.67" x2="450.5" y2="581.25" stroke="#1a1a1a" stroke-width="0.9" />
<line x1="449.47" y1="581.5" x2="452.07" y2="581.5" stroke="#1a1a1a" stroke-width="0.9" />
<circle cx="450.31" cy="595.54" r="1.15" fill="none" stroke="#1a1a1a" stroke-width="0.75"/>
<circle cx="449.36" cy="594.46" r="1.15" fill="none" stroke="#1a1a1a" stroke-width="0.75"/>
<circle cx="450.05" cy="593.07" r="1.15" fill="none" stroke="#1a1a1a" stroke-width="0.75"/>
<circle cx="450.45" cy="590.68" r="1.15" fill="none" stroke="#1a1a1a" stroke-width="0.75"/>
<circle cx="449.22" cy="590.27" r="1.15" fill="none" stroke="#1a1a1a" stroke-width="0.75"/>
<circle cx="450.51" cy="587.97" r="1.15" fill="none" stroke="#1a1a1a" stroke-width="0.75"/>
<circle cx="450.52" cy="586.87" r="1.15" fill="none" stroke="#1a1a1a" stroke-width="0.75"/>
<circle cx="451.41" cy="584.73" r="1.15" fill="none" stroke="#1a1a1a" stroke-width="0.75"/>
<circle cx="450.3" cy="584.17" r="1.15" fill="none" stroke="#1a1a1a" stroke-width="0.75"/>
<circle cx="450.02" cy="581.27" r="1.15" fill="none" stroke="#1a1a1a" stroke-width="0.75"/>
<circle cx="449.89" cy="578.02" r="1.15" fill="none" stroke="#1a1a1a" stroke-width="0.75"/>
<circle cx="451.55" cy="576.09" r="1.15" fill="none" stroke="#1a1a1a" stroke-width="0.75"/>
<rect x="460.45" y="594.47" width="4.95" height="19.03" fill="#a8002d"/>
<line x1="462.5" y1="594.47" x2="462.5" y2="589.63" stroke="#1a1a1a" stroke-width="0.9" />
<line x1="461.62" y1="589.5" x2="464.22" y2="589.5" stroke="#1a1a1a" stroke-width="0.9" />
<circle cx="462.83" cy="598.84" r="1.15" fill="#000"/>
<circle cx="463.12" cy="598.24" r="1.15" fill="#000"/>
<circle cx="462.05" cy="597.54" r="1.15" fill="#000"/>
<circle cx="464.41" cy="595.93" r="1.15" fill="#000"/>
<circle cx="462.46" cy="595.33" r="1.15" fill="#000"/>
<circle cx="463.37" cy="594.5" r="1.15" fill="#000"/>
<circle cx="463.94" cy="593.57" r="1.15" fill="#000"/>
<circle cx="463.94" cy="591.89" r="1.15" fill="#000"/>
<circle cx="462.82" cy="590.84" r="1.15" fill="#000"/>
<circle cx="462.27" cy="590.01" r="1.15" fill="#000"/>
<circle cx="463.08" cy="587.7" r="1.15" fill="#000"/>
<circle cx="461.73" cy="585.12" r="1.15" fill="#000"/>
<rect x="467.4" y="581.89" width="4.95" height="31.61" fill="#2c4a84"/>
<line x1="469.5" y1="581.89" x2="469.5" y2="574.8" stroke="#1a1a1a" stroke-width="0.9" />
<line x1="468.57" y1="574.5" x2="471.18" y2="574.5" stroke="#1a1a1a" stroke-width="0.9" />
<circle cx="469.17" cy="588.46" r="1.15" fill="none" stroke="#1a1a1a" stroke-width="0.75"/>
<circle cx="469.06" cy="587.68" r="1.15" fill="none" stroke="#1a1a1a" stroke-width="0.75"/>
<circle cx="469.24" cy="585.45" r="1.15" fill="none" stroke="#1a1a1a" stroke-width="0.75"/>
<circle cx="469.81" cy="584.83" r="1.15" fill="none" stroke="#1a1a1a" stroke-width="0.75"/>
<circle cx="469.65" cy="583.18" r="1.15" fill="none" stroke="#1a1a1a" stroke-width="0.75"/>
<circle cx="470.31" cy="581.87" r="1.15" fill="none" stroke="#1a1a1a" stroke-width="0.75"/>
<circle cx="470.38" cy="580.12" r="1.15" fill="none" stroke="#1a1a1a" stroke-width="0.75"/>
<circle cx="469.43" cy="578.99" r="1.15" fill="none" stroke="#1a1a1a" stroke-width="0.75"/>
<circle cx="471.25" cy="577.78" r="1.15" fill="none" stroke="#1a1a1a" stroke-width="0.75"/>
<circle cx="471.01" cy="575.21" r="1.15" fill="none" stroke="#1a1a1a" stroke-width="0.75"/>
<circle cx="468.46" cy="572.22" r="1.15" fill="none" stroke="#1a1a1a" stroke-width="0.75"/>
<circle cx="470.92" cy="569" r="1.15" fill="none" stroke="#1a1a1a" stroke-width="0.75"/>
<rect x="479.65" y="592.6" width="4.95" height="20.9" fill="#a8002d"/>
<line x1="482.5" y1="592.6" x2="482.5" y2="587.7" stroke="#1a1a1a" stroke-width="0.9" />
<line x1="480.82" y1="587.5" x2="483.43" y2="587.5" stroke="#1a1a1a" stroke-width="0.9" />
<circle cx="480.85" cy="597.06" r="1.15" fill="#000"/>
<circle cx="480.98" cy="596.16" r="1.15" fill="#000"/>
<circle cx="481.27" cy="595.79" r="1.15" fill="#000"/>
<circle cx="483.01" cy="594.05" r="1.15" fill="#000"/>
<circle cx="481.63" cy="593.22" r="1.15" fill="#000"/>
<circle cx="481.01" cy="592.83" r="1.15" fill="#000"/>
<circle cx="483.42" cy="591.81" r="1.15" fill="#000"/>
<circle cx="483.06" cy="589.81" r="1.15" fill="#000"/>
<circle cx="481.06" cy="589.08" r="1.15" fill="#000"/>
<circle cx="483.38" cy="588.47" r="1.15" fill="#000"/>
<circle cx="482.47" cy="585.12" r="1.15" fill="#000"/>
<circle cx="483.03" cy="582.54" r="1.15" fill="#000"/>
<rect x="486.6" y="580.28" width="4.95" height="33.22" fill="#2c4a84"/>
<line x1="489.5" y1="580.28" x2="489.5" y2="573.51" stroke="#1a1a1a" stroke-width="0.9" />
<line x1="487.78" y1="573.5" x2="490.38" y2="573.5" stroke="#1a1a1a" stroke-width="0.9" />
<circle cx="489.25" cy="586.78" r="1.15" fill="none" stroke="#1a1a1a" stroke-width="0.75"/>
<circle cx="488.32" cy="585.04" r="1.15" fill="none" stroke="#1a1a1a" stroke-width="0.75"/>
<circle cx="488.22" cy="583.77" r="1.15" fill="none" stroke="#1a1a1a" stroke-width="0.75"/>
<circle cx="487.92" cy="582.27" r="1.15" fill="none" stroke="#1a1a1a" stroke-width="0.75"/>
<circle cx="489.05" cy="581.76" r="1.15" fill="none" stroke="#1a1a1a" stroke-width="0.75"/>
<circle cx="487.66" cy="579.64" r="1.15" fill="none" stroke="#1a1a1a" stroke-width="0.75"/>
<circle cx="488.97" cy="578.44" r="1.15" fill="none" stroke="#1a1a1a" stroke-width="0.75"/>
<circle cx="487.94" cy="576.72" r="1.15" fill="none" stroke="#1a1a1a" stroke-width="0.75"/>
<circle cx="489.05" cy="575.73" r="1.15" fill="none" stroke="#1a1a1a" stroke-width="0.75"/>
<circle cx="489.07" cy="573.68" r="1.15" fill="none" stroke="#1a1a1a" stroke-width="0.75"/>
<circle cx="489.2" cy="568.35" r="1.15" fill="none" stroke="#1a1a1a" stroke-width="0.75"/>
<circle cx="490.24" cy="563.19" r="1.15" fill="none" stroke="#1a1a1a" stroke-width="0.75"/>
<rect x="498.85" y="591.89" width="4.95" height="21.61" fill="#a8002d"/>
<line x1="501.5" y1="591.89" x2="501.5" y2="586.41" stroke="#1a1a1a" stroke-width="0.9" />
<line x1="500.03" y1="586.5" x2="502.63" y2="586.5" stroke="#1a1a1a" stroke-width="0.9" />
<circle cx="501.76" cy="597.92" r="1.15" fill="#000"/>
<circle cx="501.76" cy="595.8" r="1.15" fill="#000"/>
<circle cx="499.82" cy="595.08" r="1.15" fill="#000"/>
<circle cx="501.68" cy="593.82" r="1.15" fill="#000"/>
<circle cx="501.91" cy="592.55" r="1.15" fill="#000"/>
<circle cx="502.71" cy="591.2" r="1.15" fill="#000"/>
<circle cx="500.78" cy="590.58" r="1.15" fill="#000"/>
<circle cx="502.87" cy="589.38" r="1.15" fill="#000"/>
<circle cx="501.36" cy="587.61" r="1.15" fill="#000"/>
<circle cx="501.28" cy="587.47" r="1.15" fill="#000"/>
<circle cx="502.6" cy="581.25" r="1.15" fill="#000"/>
<circle cx="499.83" cy="580.28" r="1.15" fill="#000"/>
<rect x="505.8" y="578.02" width="4.95" height="35.48" fill="#2c4a84"/>
<line x1="508.5" y1="578.02" x2="508.5" y2="569.64" stroke="#1a1a1a" stroke-width="0.9" />
<line x1="506.97" y1="569.5" x2="509.57" y2="569.5" stroke="#1a1a1a" stroke-width="0.9" />
<circle cx="508.03" cy="585.98" r="1.15" fill="none" stroke="#1a1a1a" stroke-width="0.75"/>
<circle cx="508.45" cy="584.39" r="1.15" fill="none" stroke="#1a1a1a" stroke-width="0.75"/>
<circle cx="509.32" cy="583.13" r="1.15" fill="none" stroke="#1a1a1a" stroke-width="0.75"/>
<circle cx="507.61" cy="580.45" r="1.15" fill="none" stroke="#1a1a1a" stroke-width="0.75"/>
<circle cx="509.32" cy="579.56" r="1.15" fill="none" stroke="#1a1a1a" stroke-width="0.75"/>
<circle cx="507.97" cy="577.61" r="1.15" fill="none" stroke="#1a1a1a" stroke-width="0.75"/>
<circle cx="508.29" cy="575.76" r="1.15" fill="none" stroke="#1a1a1a" stroke-width="0.75"/>
<circle cx="507.54" cy="573.57" r="1.15" fill="none" stroke="#1a1a1a" stroke-width="0.75"/>
<circle cx="508.3" cy="572.79" r="1.15" fill="none" stroke="#1a1a1a" stroke-width="0.75"/>
<circle cx="509.79" cy="570.63" r="1.15" fill="none" stroke="#1a1a1a" stroke-width="0.75"/>
<circle cx="508.77" cy="566.41" r="1.15" fill="none" stroke="#1a1a1a" stroke-width="0.75"/>
<circle cx="509.21" cy="559.32" r="1.15" fill="none" stroke="#1a1a1a" stroke-width="0.75"/>
<path d="M461.5 572 V554.5 H469.5 V557.3" fill="none" stroke="#1a1a1a" stroke-width="0.9"/>
<text x="465.75" y="554.8" font-size="6.4" text-anchor="middle" stroke="#000" stroke-width="0.18" letter-spacing="0.9">**</text>
<path d="M480.5 572 V554.5 H488.5 V557.3" fill="none" stroke="#1a1a1a" stroke-width="0.9"/>
<text x="484.65" y="554.8" font-size="6.4" text-anchor="middle" stroke="#000" stroke-width="0.18" letter-spacing="0.9">**</text>
<path d="M499.5 572 V554.5 H507.5 V557.3" fill="none" stroke="#1a1a1a" stroke-width="0.9"/>
<text x="504.1" y="554.8" font-size="6.4" text-anchor="middle" stroke="#000" stroke-width="0.18" letter-spacing="0.9">***</text>
<text x="426" y="639.7" font-size="10" font-weight="bold" textLength="80.4" lengthAdjust="spacingAndGlyphs">Weeks post-transplantation</text>
</svg>
</body></html>
